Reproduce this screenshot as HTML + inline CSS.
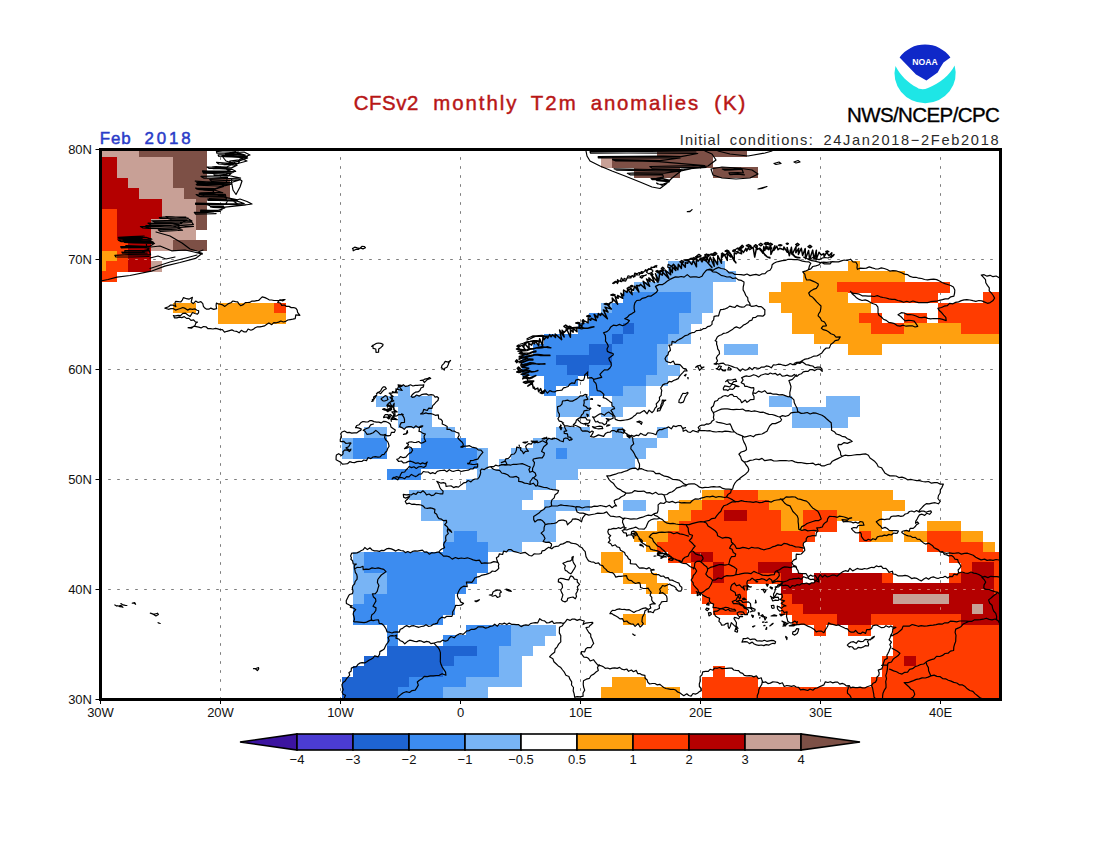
<!DOCTYPE html>
<html><head><meta charset="utf-8"><title>CFSv2 monthly T2m anomalies (K)</title>
<style>
html,body{margin:0;padding:0;background:#fff;}
body{width:1100px;height:850px;overflow:hidden;position:relative;font-family:"Liberation Sans",sans-serif;}
svg{position:absolute;left:0;top:0;display:block}
text{font-family:"Liberation Sans",sans-serif;}
.ax{font-size:13px;fill:#111;}
</style></head><body>
<svg width="1100" height="850" viewBox="0 0 1100 850">
<rect x="0" y="0" width="1100" height="850" fill="#fff"/>
<defs><clipPath id="mapclip"><rect x="100.5" y="149.5" width="900" height="550"/></clipPath></defs>

<g stroke="#7c7c7c" stroke-width="1" stroke-dasharray="2.6 6.4" stroke-dashoffset="1.3" fill="none">
<line x1="220.5" y1="149.5" x2="220.5" y2="699.5"/>
<line x1="340.5" y1="149.5" x2="340.5" y2="699.5"/>
<line x1="460.5" y1="149.5" x2="460.5" y2="699.5"/>
<line x1="580.5" y1="149.5" x2="580.5" y2="699.5"/>
<line x1="700.5" y1="149.5" x2="700.5" y2="699.5"/>
<line x1="820.5" y1="149.5" x2="820.5" y2="699.5"/>
<line x1="940.5" y1="149.5" x2="940.5" y2="699.5"/>
<line x1="100.5" y1="589.5" x2="1000.5" y2="589.5"/>
<line x1="100.5" y1="479.5" x2="1000.5" y2="479.5"/>
<line x1="100.5" y1="369.5" x2="1000.5" y2="369.5"/>
<line x1="100.5" y1="259.5" x2="1000.5" y2="259.5"/>
</g>
<g clip-path="url(#mapclip)" shape-rendering="crispEdges">
<rect x="94.38" y="146.70" width="45.30" height="10.69" fill="#c8a096"/>
<rect x="139.38" y="146.70" width="67.80" height="10.69" fill="#7d5046"/>
<rect x="656.88" y="146.70" width="90.30" height="10.69" fill="#7d5046"/>
<rect x="94.38" y="157.09" width="22.80" height="10.69" fill="#b40000"/>
<rect x="116.88" y="157.09" width="56.55" height="10.69" fill="#c8a096"/>
<rect x="173.12" y="157.09" width="34.05" height="10.69" fill="#7d5046"/>
<rect x="600.62" y="157.09" width="11.55" height="10.69" fill="#c8a096"/>
<rect x="611.88" y="157.09" width="101.55" height="10.69" fill="#7d5046"/>
<rect x="94.38" y="167.49" width="22.80" height="10.69" fill="#b40000"/>
<rect x="116.88" y="167.49" width="56.55" height="10.69" fill="#c8a096"/>
<rect x="173.12" y="167.49" width="34.05" height="10.69" fill="#7d5046"/>
<rect x="634.38" y="167.49" width="45.30" height="10.69" fill="#7d5046"/>
<rect x="713.12" y="167.49" width="45.30" height="10.69" fill="#7d5046"/>
<rect x="94.38" y="177.88" width="34.05" height="10.69" fill="#b40000"/>
<rect x="128.12" y="177.88" width="45.30" height="10.69" fill="#c8a096"/>
<rect x="173.12" y="177.88" width="56.55" height="10.69" fill="#7d5046"/>
<rect x="94.38" y="188.28" width="45.30" height="10.69" fill="#b40000"/>
<rect x="139.38" y="188.28" width="45.30" height="10.69" fill="#c8a096"/>
<rect x="184.38" y="188.28" width="45.30" height="10.69" fill="#7d5046"/>
<rect x="94.38" y="198.67" width="67.80" height="10.69" fill="#b40000"/>
<rect x="161.88" y="198.67" width="34.05" height="10.69" fill="#c8a096"/>
<rect x="195.62" y="198.67" width="11.55" height="10.69" fill="#7d5046"/>
<rect x="94.38" y="209.06" width="22.80" height="10.69" fill="#ff3c00"/>
<rect x="116.88" y="209.06" width="45.30" height="10.69" fill="#b40000"/>
<rect x="161.88" y="209.06" width="34.05" height="10.69" fill="#c8a096"/>
<rect x="195.62" y="209.06" width="11.55" height="10.69" fill="#7d5046"/>
<rect x="94.38" y="219.46" width="22.80" height="10.69" fill="#ff3c00"/>
<rect x="116.88" y="219.46" width="34.05" height="10.69" fill="#b40000"/>
<rect x="150.62" y="219.46" width="45.30" height="10.69" fill="#c8a096"/>
<rect x="195.62" y="219.46" width="11.55" height="10.69" fill="#7d5046"/>
<rect x="94.38" y="229.85" width="22.80" height="10.69" fill="#ff3c00"/>
<rect x="116.88" y="229.85" width="34.05" height="10.69" fill="#b40000"/>
<rect x="150.62" y="229.85" width="45.30" height="10.69" fill="#c8a096"/>
<rect x="94.38" y="240.25" width="34.05" height="10.69" fill="#ff3c00"/>
<rect x="128.12" y="240.25" width="22.80" height="10.69" fill="#b40000"/>
<rect x="150.62" y="240.25" width="22.80" height="10.69" fill="#c8a096"/>
<rect x="173.12" y="240.25" width="34.05" height="10.69" fill="#7d5046"/>
<rect x="94.38" y="250.64" width="22.80" height="10.69" fill="#ffa00f"/>
<rect x="116.88" y="250.64" width="11.55" height="10.69" fill="#ff3c00"/>
<rect x="128.12" y="250.64" width="22.80" height="10.69" fill="#b40000"/>
<rect x="94.38" y="261.03" width="11.55" height="10.69" fill="#ffa00f"/>
<rect x="105.62" y="261.03" width="22.80" height="10.69" fill="#ff3c00"/>
<rect x="128.12" y="261.03" width="22.80" height="10.69" fill="#b40000"/>
<rect x="150.62" y="261.03" width="11.55" height="10.69" fill="#c8a096"/>
<rect x="668.12" y="261.03" width="56.55" height="10.69" fill="#78b4f5"/>
<rect x="848.12" y="261.03" width="11.55" height="10.69" fill="#ffa00f"/>
<rect x="94.38" y="271.43" width="22.80" height="10.69" fill="#ff3c00"/>
<rect x="656.88" y="271.43" width="79.05" height="10.69" fill="#78b4f5"/>
<rect x="803.12" y="271.43" width="101.55" height="10.69" fill="#ffa00f"/>
<rect x="634.38" y="281.82" width="79.05" height="10.69" fill="#78b4f5"/>
<rect x="780.62" y="281.82" width="56.55" height="10.69" fill="#ffa00f"/>
<rect x="836.88" y="281.82" width="112.80" height="10.69" fill="#ff3c00"/>
<rect x="623.12" y="292.22" width="67.80" height="10.69" fill="#3c8cf0"/>
<rect x="690.62" y="292.22" width="22.80" height="10.69" fill="#78b4f5"/>
<rect x="769.38" y="292.22" width="79.05" height="10.69" fill="#ffa00f"/>
<rect x="870.62" y="292.22" width="67.80" height="10.69" fill="#ff3c00"/>
<rect x="983.12" y="292.22" width="22.80" height="10.69" fill="#ff3c00"/>
<rect x="173.12" y="302.61" width="22.80" height="10.69" fill="#ffa00f"/>
<rect x="218.12" y="302.61" width="56.55" height="10.69" fill="#ffa00f"/>
<rect x="274.38" y="302.61" width="11.55" height="10.69" fill="#ff3c00"/>
<rect x="600.62" y="302.61" width="11.55" height="10.69" fill="#78b4f5"/>
<rect x="611.88" y="302.61" width="79.05" height="10.69" fill="#3c8cf0"/>
<rect x="690.62" y="302.61" width="22.80" height="10.69" fill="#78b4f5"/>
<rect x="780.62" y="302.61" width="90.30" height="10.69" fill="#ffa00f"/>
<rect x="938.12" y="302.61" width="67.80" height="10.69" fill="#ff3c00"/>
<rect x="218.12" y="313.00" width="67.80" height="10.69" fill="#ffa00f"/>
<rect x="589.38" y="313.00" width="90.30" height="10.69" fill="#3c8cf0"/>
<rect x="679.38" y="313.00" width="22.80" height="10.69" fill="#78b4f5"/>
<rect x="791.88" y="313.00" width="67.80" height="10.69" fill="#ffa00f"/>
<rect x="859.38" y="313.00" width="22.80" height="10.69" fill="#ff3c00"/>
<rect x="904.38" y="313.00" width="22.80" height="10.69" fill="#ff3c00"/>
<rect x="938.12" y="313.00" width="67.80" height="10.69" fill="#ff3c00"/>
<rect x="578.12" y="323.40" width="45.30" height="10.69" fill="#3c8cf0"/>
<rect x="623.12" y="323.40" width="11.55" height="10.69" fill="#1e64d2"/>
<rect x="634.38" y="323.40" width="45.30" height="10.69" fill="#3c8cf0"/>
<rect x="679.38" y="323.40" width="11.55" height="10.69" fill="#78b4f5"/>
<rect x="791.88" y="323.40" width="79.05" height="10.69" fill="#ffa00f"/>
<rect x="870.62" y="323.40" width="34.05" height="10.69" fill="#ff3c00"/>
<rect x="904.38" y="323.40" width="56.55" height="10.69" fill="#ffa00f"/>
<rect x="960.62" y="323.40" width="45.30" height="10.69" fill="#ff3c00"/>
<rect x="544.38" y="333.79" width="67.80" height="10.69" fill="#3c8cf0"/>
<rect x="611.88" y="333.79" width="11.55" height="10.69" fill="#1e64d2"/>
<rect x="623.12" y="333.79" width="45.30" height="10.69" fill="#3c8cf0"/>
<rect x="668.12" y="333.79" width="22.80" height="10.69" fill="#78b4f5"/>
<rect x="814.38" y="333.79" width="191.55" height="10.69" fill="#ffa00f"/>
<rect x="533.12" y="344.19" width="56.55" height="10.69" fill="#3c8cf0"/>
<rect x="589.38" y="344.19" width="22.80" height="10.69" fill="#1e64d2"/>
<rect x="611.88" y="344.19" width="45.30" height="10.69" fill="#3c8cf0"/>
<rect x="656.88" y="344.19" width="11.55" height="10.69" fill="#78b4f5"/>
<rect x="724.38" y="344.19" width="34.05" height="10.69" fill="#78b4f5"/>
<rect x="848.12" y="344.19" width="34.05" height="10.69" fill="#ffa00f"/>
<rect x="521.88" y="354.58" width="34.05" height="10.69" fill="#3c8cf0"/>
<rect x="555.62" y="354.58" width="56.55" height="10.69" fill="#1e64d2"/>
<rect x="611.88" y="354.58" width="45.30" height="10.69" fill="#3c8cf0"/>
<rect x="656.88" y="354.58" width="11.55" height="10.69" fill="#78b4f5"/>
<rect x="521.88" y="364.97" width="45.30" height="10.69" fill="#3c8cf0"/>
<rect x="566.88" y="364.97" width="22.80" height="10.69" fill="#1e64d2"/>
<rect x="589.38" y="364.97" width="67.80" height="10.69" fill="#3c8cf0"/>
<rect x="656.88" y="364.97" width="22.80" height="10.69" fill="#78b4f5"/>
<rect x="544.38" y="375.37" width="34.05" height="10.69" fill="#3c8cf0"/>
<rect x="589.38" y="375.37" width="56.55" height="10.69" fill="#3c8cf0"/>
<rect x="645.62" y="375.37" width="22.80" height="10.69" fill="#78b4f5"/>
<rect x="398.12" y="385.76" width="11.55" height="10.69" fill="#78b4f5"/>
<rect x="544.38" y="385.76" width="11.55" height="10.69" fill="#3c8cf0"/>
<rect x="589.38" y="385.76" width="34.05" height="10.69" fill="#3c8cf0"/>
<rect x="623.12" y="385.76" width="22.80" height="10.69" fill="#78b4f5"/>
<rect x="375.62" y="396.16" width="56.55" height="10.69" fill="#78b4f5"/>
<rect x="555.62" y="396.16" width="34.05" height="10.69" fill="#78b4f5"/>
<rect x="611.88" y="396.16" width="34.05" height="10.69" fill="#78b4f5"/>
<rect x="769.38" y="396.16" width="22.80" height="10.69" fill="#78b4f5"/>
<rect x="825.62" y="396.16" width="34.05" height="10.69" fill="#78b4f5"/>
<rect x="398.12" y="406.55" width="34.05" height="10.69" fill="#78b4f5"/>
<rect x="555.62" y="406.55" width="34.05" height="10.69" fill="#78b4f5"/>
<rect x="600.62" y="406.55" width="22.80" height="10.69" fill="#78b4f5"/>
<rect x="791.88" y="406.55" width="67.80" height="10.69" fill="#78b4f5"/>
<rect x="398.12" y="416.94" width="34.05" height="10.69" fill="#78b4f5"/>
<rect x="791.88" y="416.94" width="56.55" height="10.69" fill="#78b4f5"/>
<rect x="364.38" y="427.34" width="22.80" height="10.69" fill="#78b4f5"/>
<rect x="420.62" y="427.34" width="34.05" height="10.69" fill="#78b4f5"/>
<rect x="555.62" y="427.34" width="34.05" height="10.69" fill="#78b4f5"/>
<rect x="611.88" y="427.34" width="11.55" height="10.69" fill="#78b4f5"/>
<rect x="656.88" y="427.34" width="11.55" height="10.69" fill="#78b4f5"/>
<rect x="341.88" y="437.73" width="11.55" height="10.69" fill="#78b4f5"/>
<rect x="353.12" y="437.73" width="34.05" height="10.69" fill="#3c8cf0"/>
<rect x="420.62" y="437.73" width="45.30" height="10.69" fill="#3c8cf0"/>
<rect x="533.12" y="437.73" width="124.05" height="10.69" fill="#78b4f5"/>
<rect x="341.88" y="448.13" width="11.55" height="10.69" fill="#78b4f5"/>
<rect x="353.12" y="448.13" width="34.05" height="10.69" fill="#3c8cf0"/>
<rect x="409.38" y="448.13" width="67.80" height="10.69" fill="#3c8cf0"/>
<rect x="476.88" y="448.13" width="11.55" height="10.69" fill="#78b4f5"/>
<rect x="510.62" y="448.13" width="45.30" height="10.69" fill="#78b4f5"/>
<rect x="555.62" y="448.13" width="11.55" height="10.69" fill="#3c8cf0"/>
<rect x="566.88" y="448.13" width="79.05" height="10.69" fill="#78b4f5"/>
<rect x="409.38" y="458.52" width="67.80" height="10.69" fill="#3c8cf0"/>
<rect x="476.88" y="458.52" width="11.55" height="10.69" fill="#78b4f5"/>
<rect x="499.38" y="458.52" width="135.30" height="10.69" fill="#78b4f5"/>
<rect x="386.88" y="468.91" width="34.05" height="10.69" fill="#3c8cf0"/>
<rect x="476.88" y="468.91" width="101.55" height="10.69" fill="#78b4f5"/>
<rect x="465.62" y="479.31" width="90.30" height="10.69" fill="#78b4f5"/>
<rect x="409.38" y="489.70" width="124.05" height="10.69" fill="#78b4f5"/>
<rect x="701.88" y="489.70" width="22.80" height="10.69" fill="#ffa00f"/>
<rect x="724.38" y="489.70" width="34.05" height="10.69" fill="#ff3c00"/>
<rect x="758.12" y="489.70" width="135.30" height="10.69" fill="#ffa00f"/>
<rect x="420.62" y="500.10" width="101.55" height="10.69" fill="#78b4f5"/>
<rect x="544.38" y="500.10" width="45.30" height="10.69" fill="#78b4f5"/>
<rect x="623.12" y="500.10" width="22.80" height="10.69" fill="#78b4f5"/>
<rect x="679.38" y="500.10" width="22.80" height="10.69" fill="#ffa00f"/>
<rect x="701.88" y="500.10" width="67.80" height="10.69" fill="#ff3c00"/>
<rect x="769.38" y="500.10" width="135.30" height="10.69" fill="#ffa00f"/>
<rect x="420.62" y="510.49" width="135.30" height="10.69" fill="#78b4f5"/>
<rect x="668.12" y="510.49" width="22.80" height="10.69" fill="#ffa00f"/>
<rect x="690.62" y="510.49" width="34.05" height="10.69" fill="#ff3c00"/>
<rect x="724.38" y="510.49" width="22.80" height="10.69" fill="#b40000"/>
<rect x="746.88" y="510.49" width="34.05" height="10.69" fill="#ff3c00"/>
<rect x="780.62" y="510.49" width="22.80" height="10.69" fill="#ffa00f"/>
<rect x="803.12" y="510.49" width="34.05" height="10.69" fill="#ff3c00"/>
<rect x="836.88" y="510.49" width="45.30" height="10.69" fill="#ffa00f"/>
<rect x="443.12" y="520.88" width="112.80" height="10.69" fill="#78b4f5"/>
<rect x="656.88" y="520.88" width="22.80" height="10.69" fill="#ffa00f"/>
<rect x="679.38" y="520.88" width="101.55" height="10.69" fill="#ff3c00"/>
<rect x="780.62" y="520.88" width="22.80" height="10.69" fill="#ffa00f"/>
<rect x="803.12" y="520.88" width="34.05" height="10.69" fill="#ff3c00"/>
<rect x="859.38" y="520.88" width="22.80" height="10.69" fill="#ffa00f"/>
<rect x="926.88" y="520.88" width="34.05" height="10.69" fill="#ffa00f"/>
<rect x="443.12" y="531.28" width="11.55" height="10.69" fill="#78b4f5"/>
<rect x="454.38" y="531.28" width="22.80" height="10.69" fill="#3c8cf0"/>
<rect x="476.88" y="531.28" width="79.05" height="10.69" fill="#78b4f5"/>
<rect x="634.38" y="531.28" width="34.05" height="10.69" fill="#ffa00f"/>
<rect x="668.12" y="531.28" width="146.55" height="10.69" fill="#ff3c00"/>
<rect x="859.38" y="531.28" width="11.55" height="10.69" fill="#ff3c00"/>
<rect x="870.62" y="531.28" width="22.80" height="10.69" fill="#ffa00f"/>
<rect x="904.38" y="531.28" width="22.80" height="10.69" fill="#ffa00f"/>
<rect x="926.88" y="531.28" width="34.05" height="10.69" fill="#ff3c00"/>
<rect x="960.62" y="531.28" width="22.80" height="10.69" fill="#ffa00f"/>
<rect x="443.12" y="541.67" width="45.30" height="10.69" fill="#3c8cf0"/>
<rect x="488.12" y="541.67" width="34.05" height="10.69" fill="#78b4f5"/>
<rect x="645.62" y="541.67" width="11.55" height="10.69" fill="#ffa00f"/>
<rect x="656.88" y="541.67" width="146.55" height="10.69" fill="#ff3c00"/>
<rect x="926.88" y="541.67" width="56.55" height="10.69" fill="#ff3c00"/>
<rect x="983.12" y="541.67" width="11.55" height="10.69" fill="#ffa00f"/>
<rect x="353.12" y="552.07" width="11.55" height="10.69" fill="#78b4f5"/>
<rect x="364.38" y="552.07" width="124.05" height="10.69" fill="#3c8cf0"/>
<rect x="600.62" y="552.07" width="22.80" height="10.69" fill="#ffa00f"/>
<rect x="668.12" y="552.07" width="22.80" height="10.69" fill="#ff3c00"/>
<rect x="690.62" y="552.07" width="22.80" height="10.69" fill="#b40000"/>
<rect x="713.12" y="552.07" width="79.05" height="10.69" fill="#ff3c00"/>
<rect x="949.38" y="552.07" width="56.55" height="10.69" fill="#ff3c00"/>
<rect x="353.12" y="562.46" width="11.55" height="10.69" fill="#78b4f5"/>
<rect x="364.38" y="562.46" width="124.05" height="10.69" fill="#3c8cf0"/>
<rect x="600.62" y="562.46" width="22.80" height="10.69" fill="#ffa00f"/>
<rect x="690.62" y="562.46" width="22.80" height="10.69" fill="#ff3c00"/>
<rect x="713.12" y="562.46" width="11.55" height="10.69" fill="#b40000"/>
<rect x="724.38" y="562.46" width="34.05" height="10.69" fill="#ff3c00"/>
<rect x="758.12" y="562.46" width="34.05" height="10.69" fill="#b40000"/>
<rect x="960.62" y="562.46" width="11.55" height="10.69" fill="#ff3c00"/>
<rect x="971.88" y="562.46" width="22.80" height="10.69" fill="#b40000"/>
<rect x="994.38" y="562.46" width="11.55" height="10.69" fill="#ff3c00"/>
<rect x="353.12" y="572.85" width="34.05" height="10.69" fill="#78b4f5"/>
<rect x="386.88" y="572.85" width="90.30" height="10.69" fill="#3c8cf0"/>
<rect x="623.12" y="572.85" width="34.05" height="10.69" fill="#ffa00f"/>
<rect x="690.62" y="572.85" width="22.80" height="10.69" fill="#ff3c00"/>
<rect x="713.12" y="572.85" width="11.55" height="10.69" fill="#b40000"/>
<rect x="724.38" y="572.85" width="56.55" height="10.69" fill="#ff3c00"/>
<rect x="780.62" y="572.85" width="22.80" height="10.69" fill="#b40000"/>
<rect x="814.38" y="572.85" width="67.80" height="10.69" fill="#b40000"/>
<rect x="881.88" y="572.85" width="11.55" height="10.69" fill="#ff3c00"/>
<rect x="949.38" y="572.85" width="11.55" height="10.69" fill="#ff3c00"/>
<rect x="960.62" y="572.85" width="34.05" height="10.69" fill="#b40000"/>
<rect x="994.38" y="572.85" width="11.55" height="10.69" fill="#ff3c00"/>
<rect x="353.12" y="583.25" width="34.05" height="10.69" fill="#78b4f5"/>
<rect x="386.88" y="583.25" width="79.05" height="10.69" fill="#3c8cf0"/>
<rect x="645.62" y="583.25" width="22.80" height="10.69" fill="#ffa00f"/>
<rect x="690.62" y="583.25" width="56.55" height="10.69" fill="#ff3c00"/>
<rect x="780.62" y="583.25" width="214.05" height="10.69" fill="#b40000"/>
<rect x="994.38" y="583.25" width="11.55" height="10.69" fill="#ff3c00"/>
<rect x="353.12" y="593.64" width="11.55" height="10.69" fill="#78b4f5"/>
<rect x="364.38" y="593.64" width="90.30" height="10.69" fill="#3c8cf0"/>
<rect x="701.88" y="593.64" width="45.30" height="10.69" fill="#ff3c00"/>
<rect x="780.62" y="593.64" width="11.55" height="10.69" fill="#ff3c00"/>
<rect x="791.88" y="593.64" width="101.55" height="10.69" fill="#b40000"/>
<rect x="893.12" y="593.64" width="56.55" height="10.69" fill="#c8a096"/>
<rect x="949.38" y="593.64" width="56.55" height="10.69" fill="#b40000"/>
<rect x="353.12" y="604.04" width="101.55" height="10.69" fill="#3c8cf0"/>
<rect x="713.12" y="604.04" width="34.05" height="10.69" fill="#ff3c00"/>
<rect x="780.62" y="604.04" width="22.80" height="10.69" fill="#ff3c00"/>
<rect x="803.12" y="604.04" width="169.05" height="10.69" fill="#b40000"/>
<rect x="971.88" y="604.04" width="11.55" height="10.69" fill="#c8a096"/>
<rect x="983.12" y="604.04" width="22.80" height="10.69" fill="#b40000"/>
<rect x="353.12" y="614.43" width="90.30" height="10.69" fill="#3c8cf0"/>
<rect x="623.12" y="614.43" width="22.80" height="10.69" fill="#ffa00f"/>
<rect x="791.88" y="614.43" width="45.30" height="10.69" fill="#ff3c00"/>
<rect x="836.88" y="614.43" width="34.05" height="10.69" fill="#b40000"/>
<rect x="870.62" y="614.43" width="90.30" height="10.69" fill="#ff3c00"/>
<rect x="960.62" y="614.43" width="45.30" height="10.69" fill="#b40000"/>
<rect x="386.88" y="624.82" width="11.55" height="10.69" fill="#3c8cf0"/>
<rect x="465.62" y="624.82" width="45.30" height="10.69" fill="#3c8cf0"/>
<rect x="510.62" y="624.82" width="45.30" height="10.69" fill="#78b4f5"/>
<rect x="814.38" y="624.82" width="11.55" height="10.69" fill="#ff3c00"/>
<rect x="848.12" y="624.82" width="22.80" height="10.69" fill="#ff3c00"/>
<rect x="893.12" y="624.82" width="112.80" height="10.69" fill="#ff3c00"/>
<rect x="386.88" y="635.22" width="11.55" height="10.69" fill="#3c8cf0"/>
<rect x="443.12" y="635.22" width="67.80" height="10.69" fill="#3c8cf0"/>
<rect x="510.62" y="635.22" width="34.05" height="10.69" fill="#78b4f5"/>
<rect x="893.12" y="635.22" width="112.80" height="10.69" fill="#ff3c00"/>
<rect x="386.88" y="645.61" width="90.30" height="10.69" fill="#1e64d2"/>
<rect x="476.88" y="645.61" width="22.80" height="10.69" fill="#3c8cf0"/>
<rect x="499.38" y="645.61" width="34.05" height="10.69" fill="#78b4f5"/>
<rect x="893.12" y="645.61" width="112.80" height="10.69" fill="#ff3c00"/>
<rect x="364.38" y="656.01" width="90.30" height="10.69" fill="#1e64d2"/>
<rect x="454.38" y="656.01" width="45.30" height="10.69" fill="#3c8cf0"/>
<rect x="499.38" y="656.01" width="22.80" height="10.69" fill="#78b4f5"/>
<rect x="881.88" y="656.01" width="22.80" height="10.69" fill="#ff3c00"/>
<rect x="904.38" y="656.01" width="11.55" height="10.69" fill="#b40000"/>
<rect x="915.62" y="656.01" width="90.30" height="10.69" fill="#ff3c00"/>
<rect x="353.12" y="666.40" width="90.30" height="10.69" fill="#1e64d2"/>
<rect x="443.12" y="666.40" width="56.55" height="10.69" fill="#3c8cf0"/>
<rect x="499.38" y="666.40" width="22.80" height="10.69" fill="#78b4f5"/>
<rect x="713.12" y="666.40" width="11.55" height="10.69" fill="#ff3c00"/>
<rect x="881.88" y="666.40" width="124.05" height="10.69" fill="#ff3c00"/>
<rect x="341.88" y="676.79" width="67.80" height="10.69" fill="#1e64d2"/>
<rect x="409.38" y="676.79" width="56.55" height="10.69" fill="#3c8cf0"/>
<rect x="465.62" y="676.79" width="56.55" height="10.69" fill="#78b4f5"/>
<rect x="611.88" y="676.79" width="34.05" height="10.69" fill="#ffa00f"/>
<rect x="701.88" y="676.79" width="56.55" height="10.69" fill="#ff3c00"/>
<rect x="870.62" y="676.79" width="135.30" height="10.69" fill="#ff3c00"/>
<rect x="341.88" y="687.19" width="56.55" height="10.69" fill="#1e64d2"/>
<rect x="398.12" y="687.19" width="45.30" height="10.69" fill="#3c8cf0"/>
<rect x="443.12" y="687.19" width="45.30" height="10.69" fill="#78b4f5"/>
<rect x="600.62" y="687.19" width="79.05" height="10.69" fill="#ffa00f"/>
<rect x="701.88" y="687.19" width="304.05" height="10.69" fill="#ff3c00"/>
</g>
<clipPath id="rc">
<rect x="94.38" y="157.09" width="22.50" height="10.39"/>
<rect x="94.38" y="167.49" width="22.50" height="10.39"/>
<rect x="94.38" y="177.88" width="33.75" height="10.39"/>
<rect x="94.38" y="188.28" width="45.00" height="10.39"/>
<rect x="94.38" y="198.67" width="67.50" height="10.39"/>
<rect x="116.88" y="209.06" width="45.00" height="10.39"/>
<rect x="116.88" y="219.46" width="33.75" height="10.39"/>
<rect x="116.88" y="229.85" width="33.75" height="10.39"/>
<rect x="128.12" y="240.25" width="22.50" height="10.39"/>
<rect x="128.12" y="250.64" width="22.50" height="10.39"/>
<rect x="128.12" y="261.03" width="22.50" height="10.39"/>
<rect x="724.38" y="510.49" width="22.50" height="10.39"/>
<rect x="690.62" y="552.07" width="22.50" height="10.39"/>
<rect x="713.12" y="562.46" width="11.25" height="10.39"/>
<rect x="758.12" y="562.46" width="33.75" height="10.39"/>
<rect x="971.88" y="562.46" width="22.50" height="10.39"/>
<rect x="713.12" y="572.85" width="11.25" height="10.39"/>
<rect x="780.62" y="572.85" width="22.50" height="10.39"/>
<rect x="814.38" y="572.85" width="67.50" height="10.39"/>
<rect x="960.62" y="572.85" width="33.75" height="10.39"/>
<rect x="780.62" y="583.25" width="213.75" height="10.39"/>
<rect x="791.88" y="593.64" width="101.25" height="10.39"/>
<rect x="949.38" y="593.64" width="56.25" height="10.39"/>
<rect x="803.12" y="604.04" width="168.75" height="10.39"/>
<rect x="983.12" y="604.04" width="22.50" height="10.39"/>
<rect x="836.88" y="614.43" width="33.75" height="10.39"/>
<rect x="960.62" y="614.43" width="45.00" height="10.39"/>
<rect x="904.38" y="656.01" width="11.25" height="10.39"/>
</clipPath>
<g clip-path="url(#rc)" stroke="#d87c6a" stroke-width="1" stroke-dasharray="2.6 6.4" stroke-dashoffset="1.3" fill="none">
<line x1="220.5" y1="149.5" x2="220.5" y2="699.5"/>
<line x1="340.5" y1="149.5" x2="340.5" y2="699.5"/>
<line x1="460.5" y1="149.5" x2="460.5" y2="699.5"/>
<line x1="580.5" y1="149.5" x2="580.5" y2="699.5"/>
<line x1="700.5" y1="149.5" x2="700.5" y2="699.5"/>
<line x1="820.5" y1="149.5" x2="820.5" y2="699.5"/>
<line x1="940.5" y1="149.5" x2="940.5" y2="699.5"/>
<line x1="100.5" y1="589.5" x2="1000.5" y2="589.5"/>
<line x1="100.5" y1="479.5" x2="1000.5" y2="479.5"/>
<line x1="100.5" y1="369.5" x2="1000.5" y2="369.5"/>
<line x1="100.5" y1="259.5" x2="1000.5" y2="259.5"/>
</g>
<g clip-path="url(#mapclip)" stroke="#000" stroke-width="1.2" fill="none" stroke-linejoin="round" stroke-linecap="round">
<path d="M188.1 327.7L190.6 327.5L192.9 326.9L195.0 325.6L195.7 323.4L197.5 322.0L195.4 321.8L193.6 319.8L191.0 320.4L189.0 318.3L186.5 318.4L184.3 316.6L181.8 317.6L179.4 317.2L176.9 317.9L174.4 317.9L173.7 315.5L173.4 315.6L175.8 315.8L178.2 315.4L180.6 315.7L182.8 313.3L185.2 313.1L187.8 315.0L190.2 316.4L192.5 312.5L194.9 313.5L197.4 314.2L198.5 312.9L198.7 310.8L197.0 310.2L194.8 308.8L192.4 309.3L190.0 308.9L187.6 310.1L185.2 308.4L182.8 307.5L180.4 308.5L178.0 309.3L175.6 310.1L173.2 308.6L170.8 308.6L168.4 309.3L164.9 308.1L168.5 306.7L170.6 305.0L173.3 305.2L175.5 306.6L175.9 306.4L175.2 304.7L175.0 302.8L175.6 301.4L178.2 301.7L180.7 302.0L182.3 300.1L183.5 297.6L186.5 298.7L188.9 299.2L192.4 297.3L191.5 300.5L191.2 302.0L193.2 303.6L195.7 301.1L198.1 302.5L200.9 301.6L202.8 303.6L203.4 306.3L204.8 308.1L206.6 309.2L208.9 309.2L210.8 308.1L213.7 309.4L216.6 308.7L216.1 305.5L216.4 303.0L218.2 304.0L220.4 304.2L222.7 304.9L224.9 306.4L226.8 304.9L228.5 303.6L230.9 302.7L232.9 301.0L235.5 301.6L237.6 301.8L238.9 303.8L240.6 305.6L242.0 305.1L243.6 304.4L245.3 302.7L247.4 302.5L249.7 302.4L252.0 301.1L254.4 301.1L256.7 300.6L258.6 300.5L260.2 298.8L262.2 296.8L265.0 297.6L267.3 298.8L269.1 299.8L271.7 300.0L273.9 300.5L276.3 300.5L278.7 300.6L281.1 300.1L283.4 299.6L285.1 299.5L282.9 300.8L279.8 299.9L277.7 302.4L280.3 303.0L281.8 305.3L284.5 305.0L286.5 306.4L289.0 306.4L291.2 307.6L293.7 307.5L296.0 308.4L297.2 310.1L297.6 312.3L299.9 315.3L295.8 314.8L295.2 318.6L292.8 319.2L290.3 319.6L287.8 320.0L285.8 321.3L283.4 322.0L280.9 321.0L278.6 322.1L276.3 322.8L273.8 322.7L271.8 324.7L268.9 322.9L266.8 324.2L264.7 325.9L262.3 326.4L260.0 326.8L257.5 326.8L255.2 327.7L253.2 329.4L250.9 330.2L248.1 329.0L246.4 331.8L243.8 331.8L241.3 330.3L239.1 332.8L236.5 331.3L234.1 331.0L231.9 329.9L229.5 330.6L227.0 331.3L224.5 332.1L222.4 329.7L220.0 329.6L217.8 328.9L215.6 328.3L212.9 329.0L210.5 328.7L208.0 328.7L206.0 326.8L203.5 326.5L201.1 327.9L198.7 327.2L196.3 326.6L193.9 326.1L191.5 328.2L189.1 327.9L188.1 327.7M392.1 479.0L394.1 477.5L396.3 476.7L399.5 477.6L400.6 474.5L401.9 472.4L404.7 472.0L406.0 470.0L407.6 468.5L409.1 466.5L411.6 467.6L413.9 466.8L416.3 468.5L418.7 466.8L421.1 466.5L423.8 467.5L425.9 465.9L426.6 463.2L427.3 462.0L425.1 463.9L422.5 462.9L420.2 464.1L418.0 462.8L415.5 463.3L413.2 462.1L410.8 461.2L408.5 461.4L406.0 462.6L403.5 463.0L401.4 461.0L398.7 461.5L396.8 459.3L398.7 458.7L400.5 456.6L403.3 457.7L405.8 457.2L407.5 455.2L409.2 453.4L411.1 452.6L412.6 450.2L411.4 447.7L409.1 446.8L406.8 448.2L404.5 448.6L405.8 447.5L407.7 446.0L408.5 444.4L406.6 443.1L407.2 443.7L409.1 442.0L411.6 441.8L413.9 442.5L416.2 442.4L418.6 441.5L421.0 443.2L422.9 442.6L425.7 441.3L424.3 438.4L424.1 436.1L425.4 434.0L422.9 433.4L421.0 431.9L418.8 431.2L419.3 430.2L419.3 427.8L421.7 427.0L422.8 425.9L420.7 426.2L418.4 427.5L415.8 425.8L413.6 428.0L411.1 426.5L408.7 426.7L406.3 427.1L404.2 429.3L401.9 427.6L399.7 426.6L400.2 424.6L401.3 422.6L404.5 422.3L404.5 419.3L404.0 417.6L402.8 415.6L401.5 413.9L403.2 414.6L400.8 414.7L398.4 414.7L396.5 416.0L393.5 416.4L391.7 418.0L390.9 419.8L391.8 419.5L393.5 417.6L395.1 415.2L394.8 412.8L394.2 410.5L394.1 408.3L392.5 406.4L390.1 406.1L387.7 406.1L386.8 405.4L388.4 403.3L390.2 402.2L391.1 401.1L392.4 398.9L391.9 396.5L390.5 394.1L392.4 392.7L395.2 392.7L396.0 389.8L397.8 388.4L398.6 386.0L401.5 386.5L403.3 384.7L405.6 386.4L408.1 385.9L410.5 384.8L412.9 386.0L415.3 385.4L417.7 385.4L420.1 385.0L422.5 385.1L423.8 384.7L423.4 386.9L421.0 388.0L419.9 390.4L417.9 391.9L415.4 392.2L413.5 393.5L412.0 395.0L411.2 396.4L412.2 397.3L414.6 396.8L416.6 395.0L419.3 396.1L421.5 394.7L423.9 394.2L426.3 393.9L428.7 395.2L431.1 394.7L433.5 395.0L435.1 397.2L437.1 396.7L438.6 398.0L437.9 400.5L436.0 402.1L434.5 404.0L432.7 405.6L431.9 408.4L428.6 408.2L427.3 410.5L423.7 409.4L422.8 412.5L420.5 414.0L423.5 413.8L425.9 412.9L428.3 413.7L430.8 413.6L433.1 414.3L435.3 415.3L438.3 414.9L438.7 418.7L441.0 419.4L442.4 421.2L442.2 424.0L445.1 425.2L447.2 426.4L447.0 429.4L449.6 429.3L451.7 430.8L454.1 431.1L456.2 432.3L458.8 433.1L459.1 435.5L457.8 437.8L459.2 439.5L460.7 441.0L462.2 442.3L463.3 444.3L463.0 445.9L460.6 447.0L462.3 447.3L464.6 446.1L467.0 446.1L469.5 445.7L471.8 447.1L474.2 447.6L476.4 448.2L478.1 449.9L481.0 450.1L482.9 452.4L480.9 454.7L479.4 456.6L477.8 459.1L475.4 459.6L473.5 460.3L470.4 460.7L470.0 462.3L468.1 464.0L467.6 463.2L469.8 463.9L472.2 464.3L474.6 464.5L477.7 463.9L477.6 467.1L474.6 467.0L472.9 469.0L470.4 468.9L468.3 470.2L465.9 470.5L463.6 470.9L461.2 471.5L458.8 470.2L456.4 470.5L454.0 471.3L451.6 471.1L449.3 469.7L446.8 471.7L444.4 470.1L441.9 470.5L439.5 470.7L437.2 471.4L435.2 473.7L432.7 472.6L430.3 473.6L428.2 472.0L425.7 472.0L423.3 471.5L421.5 473.8L419.0 474.2L417.2 475.7L415.8 476.6L413.7 475.7L411.4 474.4L409.0 476.8L406.6 476.6L404.7 478.7L401.8 477.5L399.2 477.7L397.7 479.8L395.6 478.5L393.3 477.4L392.1 479.0M371.7 420.6L374.0 421.6L376.4 422.1L378.8 422.1L381.1 422.9L383.7 421.3L386.2 421.7L388.5 422.7L390.4 424.3L391.0 427.1L393.0 428.5L395.3 430.1L394.4 432.4L391.4 432.4L390.4 435.4L387.9 435.9L385.1 435.2L384.6 437.5L385.6 439.8L387.7 441.6L388.6 443.9L389.1 446.3L387.7 448.5L386.9 450.8L385.3 452.5L384.2 454.3L382.2 454.6L380.2 456.8L377.8 457.1L375.3 456.7L372.9 457.0L370.9 458.6L368.1 457.5L366.5 460.6L363.8 460.0L361.8 461.5L359.2 461.3L356.9 461.6L354.6 462.6L352.1 462.3L349.7 461.7L347.5 463.7L345.0 464.0L342.4 464.2L340.6 462.1L338.4 461.0L336.1 459.8L336.1 456.8L336.4 455.1L338.7 453.7L341.5 455.6L342.9 454.2L343.2 452.9L342.8 452.0L344.4 450.2L346.8 449.8L349.4 451.6L350.9 449.1L350.5 450.6L348.6 449.4L346.0 447.9L348.6 446.7L349.8 444.6L350.9 443.3L350.7 442.8L348.2 443.1L345.7 443.3L343.6 441.3L341.2 441.7L340.3 441.4L340.3 439.2L341.4 437.3L341.2 435.0L340.7 433.9L342.0 432.0L344.5 431.0L346.9 432.6L349.3 432.4L351.7 433.1L354.1 432.8L356.6 432.9L358.6 431.4L360.8 430.2L361.3 429.1L359.2 428.1L356.9 427.7L355.6 427.6L356.7 425.5L359.2 424.7L360.7 422.8L362.9 421.5L365.5 421.9L367.9 422.0L370.1 420.6L371.7 420.6M396.3 631.9L394.0 632.1L392.0 633.0L389.7 632.2L387.0 631.8L386.1 629.0L384.9 627.1L383.5 625.2L381.8 623.7L379.2 623.3L378.5 619.8L375.8 620.0L373.3 620.6L370.9 620.1L368.6 621.1L366.5 622.1L364.1 622.7L361.7 622.4L359.3 622.1L356.9 621.8L354.7 621.8L353.6 621.5L354.5 619.3L354.0 616.8L353.2 614.2L353.6 612.0L355.7 609.7L353.8 608.2L352.7 607.8L350.3 607.1L352.3 605.8L350.5 605.7L348.9 604.8L346.4 603.4L346.2 600.8L347.3 598.5L348.3 596.4L349.5 594.5L352.5 593.7L353.0 591.1L352.3 587.8L352.9 585.7L354.6 583.8L355.2 581.4L357.0 579.4L357.2 576.9L356.7 574.4L355.3 572.3L354.9 569.9L354.3 567.7L354.3 565.6L356.4 564.0L353.2 563.8L352.6 560.8L350.9 559.2L351.4 557.8L350.6 556.0L351.7 553.2L354.5 553.2L357.0 552.9L359.1 551.9L360.9 550.7L363.1 549.8L364.8 547.5L367.4 549.6L370.1 547.8L372.1 550.0L374.4 550.9L376.9 550.8L379.4 551.4L381.7 550.4L384.1 550.6L386.4 548.9L388.8 548.4L391.3 548.9L393.6 549.9L395.8 551.1L398.5 549.6L400.8 550.5L403.2 550.8L405.4 552.6L407.8 551.5L410.3 552.8L412.6 551.4L415.0 550.9L417.4 551.2L419.9 550.6L422.4 550.1L424.5 552.1L426.9 551.9L429.4 554.2L431.7 552.7L434.1 553.0L436.5 552.3L438.9 551.9L440.4 550.0L441.8 549.0L444.6 547.7L443.6 544.9L444.3 542.6L446.0 540.5L445.6 538.0L446.0 535.6L448.3 533.6L447.3 531.0L447.6 528.9L449.6 530.7L451.5 532.0L451.7 532.3L450.5 530.2L448.3 528.8L447.2 526.7L444.7 524.7L446.7 522.3L446.4 520.3L443.5 520.7L441.5 519.2L439.0 518.7L437.5 516.6L436.7 514.2L434.5 512.7L434.9 509.4L432.5 508.4L430.2 507.9L427.4 508.4L425.0 508.0L423.3 506.1L421.1 505.0L418.7 504.7L416.3 504.6L414.0 504.2L411.6 504.3L409.4 503.2L406.5 503.8L405.2 501.3L405.6 500.9L407.4 499.3L409.7 496.4L405.6 498.1L403.7 497.3L403.3 494.3L406.3 494.9L408.7 494.6L411.2 495.0L413.4 493.4L416.0 494.4L418.0 492.0L420.6 492.8L422.9 490.8L425.1 492.7L426.5 494.9L429.1 494.0L431.3 495.6L433.7 495.1L435.9 493.0L438.4 493.5L440.7 493.9L442.8 493.8L443.1 491.1L440.9 489.1L439.7 487.2L439.0 484.8L436.8 481.3L441.0 483.2L443.4 482.7L445.6 483.3L446.1 486.3L448.9 486.0L451.3 485.9L453.6 487.6L456.0 486.6L458.4 487.1L460.2 485.6L462.1 484.2L463.8 482.8L466.1 482.3L468.1 480.5L470.9 481.9L472.9 479.9L475.1 479.0L477.7 479.0L479.2 477.1L480.1 475.1L480.7 472.7L480.3 470.7L481.7 469.0L484.4 469.6L486.5 468.1L488.7 467.1L491.0 466.5L493.6 466.7L495.6 465.1L498.3 466.0L500.5 465.1L502.8 464.6L505.1 465.1L507.7 464.9L506.9 464.3L505.4 461.1L501.3 462.6L504.7 461.4L505.8 458.8L508.4 458.4L510.1 456.7L511.3 454.5L514.2 454.0L515.7 452.1L516.5 449.8L516.7 447.0L519.3 447.9L520.9 447.6L520.5 450.1L522.5 451.6L523.5 453.7L525.4 451.4L528.4 451.1L526.4 448.8L525.7 446.4L526.7 445.1L528.5 443.6L531.2 444.2L532.9 441.9L535.3 441.7L537.8 442.7L540.1 441.9L542.6 440.8L544.8 442.0L547.3 443.6L546.2 440.8L547.0 440.1L548.9 438.2L551.3 439.3L553.7 438.3L556.2 438.5L558.4 439.6L560.0 440.8L563.2 441.8L563.8 438.7L565.5 438.0L567.6 438.4L569.4 440.4L572.3 439.1L571.5 439.9L570.7 437.3L567.9 436.9L567.5 433.8L564.3 433.4L564.1 431.3L566.8 430.8L565.6 429.3L564.7 427.2L564.1 425.0L562.7 423.6L561.8 421.6L559.3 421.1L557.9 418.8L559.3 416.5L559.4 414.1L558.0 411.7L557.7 409.3L557.5 406.8L560.2 405.9L561.9 404.1L562.5 401.0L565.2 400.6L567.6 400.1L570.1 401.2L572.5 401.1L574.6 400.0L576.8 398.9L578.7 397.4L580.4 395.8L582.9 395.8L585.0 394.4L587.1 394.8L586.2 396.1L587.9 399.3L584.0 400.1L584.2 402.9L583.5 405.6L585.9 406.5L587.7 408.5L590.4 408.0L590.9 408.6L589.0 410.0L586.6 410.4L584.1 410.9L583.3 413.3L581.6 415.0L580.6 417.3L578.4 418.6L576.4 420.1L575.7 422.5L573.4 424.7L576.4 425.8L578.5 426.8L580.6 427.9L581.1 429.9L582.6 431.2L585.1 430.8L587.5 431.1L589.8 432.4L592.0 431.0L593.4 431.7L592.4 433.9L590.5 436.6L593.8 437.1L596.1 436.1L598.4 434.9L601.0 435.6L603.6 436.4L605.4 433.6L607.4 432.4L610.0 432.2L611.7 430.6L614.1 430.6L616.6 432.0L618.2 429.3L620.7 429.6L622.8 429.0L623.7 431.6L625.5 433.1L627.5 434.2L629.0 436.5L631.5 435.2L633.9 436.4L636.1 435.2L638.6 435.7L640.6 433.3L643.3 434.8L645.8 435.4L647.9 432.9L650.3 433.0L652.9 433.5L656.0 434.8L657.3 431.3L659.3 429.7L661.8 429.6L664.0 428.6L666.3 428.0L668.6 426.9L671.3 428.8L673.3 425.9L675.9 426.6L678.5 425.5L681.0 425.7L682.8 428.6L685.5 427.5L684.8 428.0L682.3 428.0L682.9 428.6L683.2 431.3L685.9 430.0L688.2 432.0L690.5 432.4L692.9 430.5L695.4 431.4L698.2 432.1L699.5 429.9L698.2 427.4L700.0 425.7L701.8 425.1L704.2 425.2L706.3 423.9L708.8 424.1L710.9 422.9L712.2 420.9L714.1 419.8L713.4 417.3L713.9 414.8L713.4 412.5L711.7 410.3L711.3 407.8L713.5 405.7L714.0 403.7L714.8 401.3L717.5 400.5L718.7 398.5L720.9 397.7L722.9 396.3L725.2 395.5L728.0 396.4L730.0 394.6L732.3 394.3L733.9 396.3L736.7 396.5L738.2 398.5L740.3 399.7L741.7 402.7L745.3 400.1L747.0 402.3L748.9 401.0L750.4 399.6L754.0 399.3L754.0 396.6L752.7 393.9L753.2 391.6L753.9 389.3L753.7 387.7L751.4 387.8L749.0 387.2L746.8 386.3L744.8 386.3L744.1 384.1L741.2 382.7L743.1 379.8L741.6 377.7L744.0 376.6L746.3 375.9L748.9 376.5L751.3 375.8L753.6 374.7L756.0 375.5L758.6 377.1L760.8 375.3L763.2 374.5L765.5 373.8L768.0 374.4L770.3 373.0L772.7 374.0L775.2 373.3L777.5 375.2L780.0 373.9L782.2 376.1L784.7 375.8L787.1 375.1L789.5 376.1L791.9 376.2L794.3 374.4L797.0 376.4L799.1 374.5L801.4 373.8L803.2 371.9L805.6 371.3L808.1 371.4L810.1 369.5L812.5 369.6L814.8 370.6L817.3 369.1L819.7 369.0L822.2 371.4L822.1 369.2L820.2 367.2L817.5 367.1L814.8 367.9L812.8 366.0L810.4 365.6L808.1 364.9L805.9 364.6L804.2 363.3L802.2 361.7L799.8 363.5L797.3 363.0L795.1 364.7L792.7 364.6L790.2 363.5L787.9 364.9L785.5 365.7L783.1 365.2L780.6 364.3L778.2 364.2L775.8 365.0L773.4 364.8L771.3 367.8L768.7 366.3L766.2 365.9L764.0 367.2L761.5 367.0L759.4 368.5L756.9 368.2L754.3 367.5L752.3 369.7L749.5 367.5L747.4 369.6L745.1 370.3L742.4 368.8L740.3 371.1L738.7 369.7L737.3 368.0L734.6 367.5L732.5 366.6L730.2 365.7L727.9 365.0L725.5 364.9L723.4 363.2L720.9 363.4L718.4 364.1L716.0 363.0L717.5 360.8L716.3 358.1L717.4 355.9L719.5 353.8L719.2 351.1L717.7 348.9L717.4 346.5L716.6 344.2L716.7 341.4L715.1 340.8L716.2 339.3L717.3 336.9L719.3 335.5L721.6 334.8L723.6 333.3L726.1 333.0L728.3 332.1L730.3 330.8L732.4 329.6L734.2 327.9L736.4 326.9L739.7 328.2L741.7 326.8L743.5 325.0L745.7 324.1L747.8 322.8L749.4 320.8L751.8 320.2L753.0 317.6L755.7 317.3L757.7 315.8L760.2 315.8L762.8 316.2L764.8 314.5L764.8 312.6L764.9 310.0L763.2 308.3L761.2 306.6L758.6 306.7L756.4 305.4L753.8 306.2L751.4 306.3L749.0 305.0L746.6 304.9L744.3 306.9L741.9 307.2L739.5 306.6L736.9 305.4L734.8 307.5L732.3 306.9L729.7 306.1L727.5 307.9L725.3 308.8L723.0 309.4L720.5 309.7L719.6 312.0L719.2 313.6L718.5 316.0L716.6 315.9L714.1 316.3L713.7 319.8L712.1 321.6L712.0 324.4L710.0 326.1L707.5 326.7L705.7 328.4L703.2 328.7L701.2 330.1L698.7 330.4L696.3 330.6L694.4 332.4L691.9 332.7L689.7 333.6L687.7 335.0L685.3 335.6L683.3 337.0L681.3 338.4L679.2 339.4L677.1 340.6L675.3 342.4L672.1 341.4L671.7 344.9L668.8 345.1L669.9 347.6L670.5 350.3L668.5 352.2L668.0 354.8L666.3 356.3L665.0 358.7L666.2 361.2L668.3 362.1L670.6 362.8L673.3 361.1L675.0 364.4L677.5 364.3L680.0 364.7L681.7 366.5L683.3 368.3L685.9 368.9L687.1 371.0L684.4 370.8L682.8 372.6L681.1 374.4L679.5 376.3L678.2 378.6L675.9 379.6L673.6 380.5L671.7 381.8L669.1 381.3L667.2 383.5L664.8 383.9L662.7 384.9L662.1 386.2L660.7 388.0L661.8 390.4L661.3 392.9L661.2 395.4L659.4 397.4L659.6 399.9L658.0 402.0L656.2 403.8L656.7 406.5L655.0 408.2L653.9 410.6L652.1 412.7L649.1 410.1L647.1 413.8L644.2 410.5L642.0 411.8L639.8 413.2L637.2 413.0L635.6 414.9L633.6 416.3L632.0 417.9L629.9 418.9L627.7 419.7L625.3 420.0L622.9 420.3L620.5 420.6L618.1 420.3L616.0 419.7L615.0 418.8L614.9 416.5L613.4 414.6L612.4 412.4L610.9 410.6L612.2 409.4L614.6 408.6L614.0 407.1L612.0 405.9L611.8 402.7L609.7 401.4L607.9 399.9L606.0 398.5L603.2 397.6L603.9 394.5L602.1 392.6L600.2 391.2L597.3 390.6L596.7 388.0L596.5 385.5L595.8 383.2L593.9 381.4L593.4 379.0L591.4 377.6L587.8 378.1L587.5 375.0L587.4 372.6L587.8 371.9L586.6 373.3L584.7 375.0L584.5 377.6L583.6 380.1L581.1 380.7L578.3 379.4L575.8 380.1L574.7 383.3L571.7 382.9L569.6 384.2L568.2 386.5L565.9 387.3L563.5 387.9L561.9 390.1L559.4 390.5L557.0 390.6L554.7 391.9L552.2 391.6L549.8 390.6L547.4 393.1L545.0 390.2L544.5 391.5M396.3 631.9L399.2 632.2L400.3 629.2L402.6 628.4L404.5 626.8L406.7 625.6L409.3 627.0L411.6 625.9L414.0 625.7L416.4 626.7L418.9 627.3L421.3 626.5L423.6 626.2L426.0 624.7L428.4 626.3L430.8 626.0L433.0 624.4L435.0 623.9L437.5 623.2L438.2 620.6L439.7 618.7L441.8 617.2L444.6 618.0L446.7 616.3L449.2 616.3L451.9 616.4L452.8 614.1L452.6 612.0L453.6 610.2L454.7 608.2L455.7 605.3L458.6 605.5L461.1 605.2L463.5 603.4L460.8 602.1L459.7 600.0L458.2 598.1L457.4 595.9L457.6 593.8L458.6 591.5L459.7 589.3L461.3 587.5L463.6 586.2L467.2 586.6L466.4 582.1L469.4 582.2L471.9 582.4L473.6 580.2L474.7 578.0L476.8 577.2L479.1 576.7L481.2 575.4L483.5 574.8L485.9 574.4L488.2 573.6L490.4 572.8L492.3 571.0L495.1 571.5L497.1 570.0L498.8 568.3L498.4 565.9L498.9 564.3L497.8 562.5L497.0 560.3L496.4 557.8L498.5 556.5L499.4 553.8L502.6 554.5L503.6 551.2L506.6 551.9L508.5 549.6L511.2 549.7L513.3 551.3L515.6 551.9L517.9 552.5L520.3 553.3L522.7 552.8L525.3 552.4L527.4 554.0L529.4 555.5L531.9 555.9L534.3 553.8L536.6 554.0L539.0 554.0L541.2 553.5L542.1 550.9L544.7 550.3L546.5 548.7L548.7 547.3L551.8 548.8L553.8 547.0L556.1 546.4L558.5 546.1L560.4 544.4L562.9 543.9L565.0 542.9L567.0 541.6L569.1 541.8L571.2 543.2L573.6 543.5L576.1 543.9L578.1 545.1L579.8 546.8L582.1 547.8L583.5 549.9L585.2 551.7L585.6 554.1L586.0 556.6L587.2 558.8L588.6 560.9L591.0 561.8L593.8 562.1L595.6 563.5L598.5 562.9L600.2 565.0L602.6 565.7L604.1 567.9L606.0 569.4L607.5 571.3L609.8 572.3L612.4 572.6L614.2 574.2L615.8 577.1L618.6 576.3L621.0 576.3L623.3 576.0L626.5 575.6L627.3 578.5L629.0 580.1L631.5 580.6L633.3 582.2L635.5 583.5L637.9 582.7L639.8 582.8L640.4 585.1L640.5 587.5L642.9 588.3L645.3 588.5L648.1 588.2L649.5 590.3L651.2 592.3L650.1 595.3L651.8 597.3L651.7 600.0L652.9 602.0L655.2 603.8L652.1 603.9L649.9 604.8L650.8 607.9L648.3 609.5L648.2 612.1L650.6 611.7L653.2 612.7L654.5 610.2L657.0 609.5L659.5 608.3L659.1 605.5L660.6 603.8L661.5 601.9L663.9 601.5L666.9 601.5L667.1 598.9L666.6 596.1L664.7 594.2L662.7 592.7L659.4 593.4L660.5 591.2L659.6 589.1L661.3 587.5L662.5 585.5L664.8 586.1L666.8 585.2L669.5 584.0L671.7 585.4L674.0 586.2L675.7 587.6L676.7 589.8L678.7 591.2L680.8 591.2L681.9 589.2L681.8 587.2L679.9 585.8L679.0 583.1L676.6 582.2L674.4 581.2L672.2 580.1L669.6 580.1L668.1 577.6L665.4 577.9L663.5 576.0L660.8 576.3L658.8 574.7L656.3 574.6L653.8 574.5L651.8 573.0L650.8 570.4L654.3 569.9L653.6 569.4L651.5 569.9L649.1 567.6L646.7 568.9L644.4 568.2L642.0 567.9L639.4 568.1L637.5 566.2L635.9 564.2L633.2 564.0L630.3 563.6L630.5 560.1L628.4 558.7L627.4 556.5L625.4 554.9L624.6 552.5L622.4 551.3L620.5 550.3L619.5 547.5L617.1 546.8L615.3 544.8L612.2 546.0L610.8 543.7L608.3 542.5L610.1 540.3L608.9 537.7L610.7 535.7L608.6 534.1L607.8 531.8L608.6 529.3L611.2 529.1L613.5 528.4L616.1 528.7L618.2 527.7L620.6 528.4L623.0 527.0L625.1 527.5L624.7 529.6L622.1 530.5L623.7 532.7L626.4 533.2L626.7 536.2L628.2 535.0L631.1 534.8L631.6 531.9L633.6 531.1L635.5 532.3L637.2 534.0L637.7 535.6L639.0 537.3L640.1 539.3L640.9 541.7L642.8 543.2L644.9 544.5L646.8 545.9L649.4 546.4L650.5 549.1L652.9 549.8L655.3 550.4L657.6 550.9L659.8 551.8L661.7 553.4L664.3 553.6L666.4 554.8L668.2 556.5L670.9 556.5L672.6 558.5L675.0 559.0L677.2 560.1L679.2 561.3L681.2 562.7L683.5 563.5L686.2 563.6L688.1 565.0L690.0 566.5L692.3 567.6L695.1 568.2L696.7 571.0L695.1 573.6L693.3 575.5L692.7 577.9L691.1 580.0L693.2 582.8L693.2 584.5L694.5 586.2L696.2 588.0L697.9 589.7L698.6 592.1L701.0 593.0L702.6 595.0L704.6 596.1L706.9 597.2L709.6 598.1L709.3 601.2L710.9 603.0L713.6 604.1L713.0 607.7L715.9 607.5L718.1 608.2L720.6 608.8L722.9 608.2L725.3 607.4L727.7 607.5L729.9 608.5L732.2 609.1L734.7 609.4L735.7 610.8L734.9 610.8L732.7 611.0L730.2 611.0L728.2 609.3L725.7 610.5L723.4 609.2L721.0 608.6L718.9 609.9L717.1 611.2L713.9 611.3L714.3 613.8L715.4 615.9L717.3 617.3L719.6 618.5L718.9 621.3L720.8 623.2L721.6 625.2L724.3 624.9L726.0 623.6L728.1 623.2L728.1 626.2L729.1 628.5L730.2 626.5L731.3 622.6L734.1 625.4L736.0 626.8L738.0 628.4L737.4 627.5L736.1 625.7L736.5 622.8L735.3 620.7L734.0 618.6L734.6 617.3L736.4 617.8L738.7 618.8L740.2 616.3L742.6 616.6L739.3 616.6L737.6 614.8L737.1 612.9L738.8 611.9L741.2 611.8L743.4 612.2L744.7 614.6L747.5 614.6L747.2 613.3L748.6 612.4L748.5 610.3L746.6 609.0L744.3 608.1L742.8 606.0L740.6 605.1L738.5 603.8L735.9 603.7L733.5 603.6L732.3 601.6L734.0 600.8L736.1 600.1L736.9 598.3L737.6 597.0L738.2 596.1L739.6 599.1L740.7 597.2L739.9 594.4L735.8 595.5L735.2 592.5L733.2 591.2L730.6 589.8L730.9 586.7L732.2 584.4L734.6 583.0L735.3 584.5L736.6 585.8L739.5 584.9L741.4 586.9L743.4 588.3L744.5 589.9L743.8 587.4L742.5 587.6L744.0 586.0L747.1 585.8L746.9 590.1L747.6 589.0L747.7 586.6L747.1 584.8L749.4 586.8L751.5 586.8L750.2 587.2L747.9 586.2L746.9 583.7L747.0 582.3L747.7 580.5L750.1 580.0L752.1 578.1L754.9 580.3L757.3 579.6L759.7 579.3L762.1 578.7L764.4 579.4L766.7 580.8L769.4 578.4L771.7 580.0L772.4 582.9L774.9 581.9L777.2 581.2L779.6 581.3L783.4 581.8L780.6 584.3L777.9 584.8L776.9 587.4L775.1 587.0L776.8 586.5L779.4 586.2L781.5 585.0L782.7 582.3L785.0 581.5L787.3 580.7L789.4 579.4L791.7 579.2L794.1 578.6L796.5 578.6L798.8 578.1L801.1 579.3L803.7 576.7L806.0 577.8L808.0 577.9L809.1 576.4L807.7 576.2L806.0 573.5L803.5 573.7L801.1 573.5L798.5 573.2L798.0 570.6L796.6 568.6L796.0 566.2L793.3 565.2L791.8 562.5L793.5 560.1L796.3 558.9L796.1 556.3L796.3 554.2L798.9 554.4L801.3 554.0L803.1 552.1L804.8 550.3L804.4 547.8L803.2 545.2L803.6 542.7L806.1 541.2L806.3 538.4L808.0 536.5L810.5 536.1L812.9 535.5L816.0 535.8L816.3 532.8L818.0 530.8L816.8 527.9L819.8 527.6L822.3 527.0L823.4 524.5L825.0 522.8L827.1 521.4L827.7 518.7L829.4 516.4L832.3 516.5L834.8 516.7L837.3 517.3L839.6 516.1L842.0 516.5L844.3 517.0L846.6 517.9L848.9 518.8L851.7 517.9L849.5 518.1L847.5 520.1L845.0 519.9L842.0 519.6L843.4 521.9L846.3 521.3L848.5 521.7L850.8 521.8L853.2 522.9L855.6 522.1L858.0 523.3L860.4 521.5L862.9 522.1L864.0 525.2L860.8 525.3L858.2 525.5L856.7 527.8L853.8 527.5L851.5 528.5L852.0 529.4L853.4 530.9L855.5 532.7L858.0 532.8L860.4 532.4L861.3 534.0L861.4 536.4L862.8 538.4L864.2 540.2L866.2 540.7L868.3 539.3L870.9 540.3L872.9 538.7L875.7 539.6L877.4 536.9L879.6 536.2L882.1 536.1L884.3 535.1L886.7 535.6L888.9 534.4L891.3 535.0L893.7 533.0L895.8 533.4L897.2 533.1L898.5 531.0L896.5 530.7L894.1 530.5L891.7 530.6L889.2 530.4L887.2 528.5L885.0 527.4L882.1 528.5L880.7 526.2L878.7 524.7L876.3 521.8L879.3 519.7L881.8 519.2L884.5 519.6L887.0 519.2L889.5 519.1L891.1 516.6L893.4 516.0L895.9 516.2L898.3 515.7L900.8 516.3L903.3 515.9L905.2 514.0L907.6 513.5L909.4 511.5L911.8 511.0L914.2 512.0L916.6 510.5L919.0 512.1L921.4 511.1L923.8 511.1L926.2 512.2L928.4 511.3L930.9 510.9L931.5 512.2L929.6 514.3L926.7 513.3L924.7 515.4L922.0 514.2L919.5 514.9L918.1 517.0L917.1 519.1L915.8 521.1L915.5 523.3L917.4 521.9L918.7 523.5L916.4 524.8L915.0 526.8L913.2 528.4L910.1 528.3L909.2 531.4L906.5 530.4L904.1 530.8L902.0 531.5L901.8 532.5L903.8 533.9L905.9 535.1L908.2 535.9L910.7 536.2L912.7 537.5L915.4 537.4L917.2 539.1L919.8 539.4L921.5 541.3L923.5 542.9L925.6 544.1L928.6 543.1L930.7 544.5L932.7 545.8L934.2 547.8L936.4 548.9L938.5 549.9L940.1 551.9L942.9 551.7L944.3 554.5L946.7 554.9L948.9 555.9L951.6 555.5L953.6 557.0L955.0 559.2L957.7 559.7L958.3 562.2L959.8 564.0L961.0 566.2L959.6 568.4L958.1 570.0L958.6 572.6L957.1 574.9L954.1 574.2L952.4 576.6L949.8 576.4L947.8 578.1L945.1 576.3L942.9 577.5L940.5 577.5L938.1 578.5L935.7 577.8L933.3 576.9L930.9 577.5L928.6 579.3L926.1 577.7L923.8 579.0L921.3 580.9L918.9 579.8L916.6 578.3L914.3 577.8L911.6 578.6L909.6 577.1L907.4 575.8L905.0 575.4L902.5 575.8L900.1 575.9L897.9 575.8L895.8 574.4L893.1 574.0L892.3 571.2L889.0 572.4L887.6 570.1L885.7 568.3L883.2 568.5L881.2 566.2L878.8 566.7L876.3 565.9L874.0 567.7L871.6 567.3L869.2 568.1L866.9 569.0L864.5 568.5L862.1 569.4L859.7 569.2L857.2 568.4L854.9 569.8L852.7 570.9L849.8 568.3L848.1 571.4L845.2 570.7L843.0 571.6L841.0 572.9L839.0 574.5L837.0 576.2L834.3 575.0L831.9 575.2L829.6 576.2L827.3 577.0L824.7 575.1L822.4 577.2L820.2 574.7L817.5 579.0L815.3 575.5L812.9 576.3L810.5 575.1L809.7 575.8M808.5 578.5L810.7 579.6L813.3 579.2L815.3 580.8L818.5 579.0L818.8 581.9L815.8 580.8L813.9 582.9L811.4 582.8L809.3 584.6L806.7 583.0L804.3 583.6L801.9 583.6L799.7 585.1L797.2 584.6L795.0 586.1L792.4 585.5L790.2 587.9L787.8 585.5L785.4 585.1L783.0 585.6L780.3 584.2L778.8 586.8L775.9 586.9L775.2 589.8L774.7 592.0L773.5 594.1L774.0 597.8L776.9 593.4L779.3 594.4L781.8 594.2L782.1 594.9L782.4 597.2L780.3 599.6L784.6 600.8L781.2 603.3L783.3 604.8L785.9 605.9L783.8 606.1L781.5 608.4L779.3 606.8L777.1 606.1L777.6 606.1L777.3 607.6L777.7 609.1L779.6 611.2L782.4 610.2L784.1 612.5L787.1 611.9L786.7 614.2L786.5 616.5L787.2 618.9L787.8 621.3L789.8 622.8L792.3 622.8L794.7 621.0L797.1 622.7L797.3 621.6L796.6 625.0L793.9 624.4L791.6 625.1L789.2 625.8L791.7 625.8L794.1 625.8L796.4 624.5L798.9 624.7L801.4 624.1L803.9 624.1L806.1 625.2L808.3 626.4L810.6 627.2L812.7 628.4L814.6 629.8L816.2 631.9L818.8 631.0L821.2 631.1L823.9 632.7L825.3 629.9L826.6 628.0L827.7 626.0L828.6 622.9L831.4 624.2L833.8 624.7L836.2 625.3L838.7 624.9L840.8 626.2L843.0 627.2L845.1 628.3L847.5 628.9L849.0 631.0L851.1 632.2L853.7 632.2L855.6 630.5L858.1 633.2L860.6 633.7L862.7 632.0L865.6 633.4L866.7 629.6L869.4 629.6L871.6 628.5L872.6 625.9L875.0 625.1L877.2 625.2L879.3 626.5L881.5 627.7L884.1 627.4L886.0 625.7L889.0 627.2L890.8 625.9L892.7 627.2L895.9 627.4L892.8 628.9L892.6 630.9L892.2 633.0L890.8 635.1L890.2 637.4L889.1 639.8L891.5 642.1L889.8 644.6L890.9 646.9L889.8 649.0L889.0 651.2L888.0 653.3L886.9 655.4L887.3 658.4L884.7 659.7L883.9 662.0L883.1 664.3L882.6 666.7L881.7 668.9L878.2 670.1L879.2 673.0L878.8 675.4L876.8 677.2L876.7 679.9L875.5 682.1L873.1 683.2L871.7 685.3L869.4 686.0L867.1 686.7L864.9 688.0L862.5 687.9L860.1 687.2L857.7 687.7L855.3 687.7L852.8 687.2L850.5 687.8L849.3 685.6L846.3 685.9L844.5 684.2L842.2 683.4L839.8 684.1L837.6 682.1L835.2 682.2L832.8 682.9L830.3 681.7L828.0 682.5L825.3 681.8L823.8 684.9L821.6 685.9L819.4 686.8L817.2 688.0L814.9 688.5L812.9 690.2L810.0 689.0L807.8 690.5L805.4 689.8L803.1 689.3L800.5 689.9L798.6 687.3L796.2 687.0L794.1 685.7L791.5 686.3L789.1 685.8L786.7 685.5L784.2 686.5L782.4 682.8L779.8 683.8L777.6 682.3L775.2 682.0L772.8 681.9L770.3 683.1L767.9 683.6L765.5 681.8L763.1 682.5L762.0 680.4L761.2 677.8L758.4 678.7L756.4 675.9L753.8 676.9L751.5 675.9L749.2 675.7L746.8 675.8L744.3 675.4L742.7 673.3L740.3 672.7L738.6 670.6L736.1 670.4L733.7 670.0L731.8 668.0L729.2 668.1L726.7 668.3L724.3 668.5L722.0 668.6L719.6 667.5L717.3 668.3L714.8 668.0L712.9 670.2L710.1 669.3L708.3 671.3L705.5 671.4L702.7 671.8L702.0 674.8L700.1 676.6L700.2 679.3L700.0 681.7L699.3 684.0L699.4 686.5L701.2 688.5L701.3 690.7L699.3 691.6L697.5 693.3L695.4 694.1L693.0 693.5L691.1 696.2L688.8 695.5L686.8 693.8L683.8 695.7L681.7 694.3L679.7 692.8L677.4 691.9L675.6 690.0L673.3 689.3L670.7 689.4L668.3 688.9L665.9 688.5L663.7 687.5L661.7 685.9L659.7 684.3L657.0 684.8L654.9 683.5L652.4 683.5L649.6 684.0L647.8 682.3L647.0 679.8L645.1 678.2L644.9 675.4L642.1 674.9L640.2 673.7L637.7 673.6L636.3 670.4L633.4 671.7L631.4 670.0L628.6 671.3L626.7 669.0L624.0 669.8L621.7 669.1L619.6 667.4L617.2 668.4L614.8 667.8L612.4 668.2L610.0 668.9L607.6 668.0L605.2 668.3L603.2 666.6L601.0 665.7L598.3 665.6L596.6 663.7L595.1 661.8L593.5 659.7L590.2 661.0L588.6 658.6L586.6 657.3L584.0 657.2L582.6 655.3L581.4 653.7L581.4 651.5L584.7 651.8L585.7 649.0L587.6 647.6L590.8 647.7L592.1 645.5L593.7 643.4L592.8 641.2L592.0 639.0L590.8 636.9L590.7 634.2L588.8 632.5L587.6 630.5L586.0 627.7L589.0 627.0L589.7 625.8L591.0 624.7L592.9 623.0L592.5 622.3L590.0 622.5L587.6 622.8L585.5 623.2L583.0 624.6L584.2 621.0L581.7 620.2L579.5 619.4L577.2 620.4L574.7 619.1L572.3 619.0L570.0 620.4L567.1 619.3L565.5 621.7L563.7 623.6L561.1 622.7L558.7 622.8L556.3 622.9L553.9 623.5L552.2 621.1L549.2 622.6L546.8 623.0L544.6 620.8L542.2 620.5L539.7 618.7L537.6 622.9L535.2 622.7L532.8 623.0L530.5 623.6L528.4 625.4L525.9 624.9L523.5 625.4L521.1 626.6L518.7 624.7L516.3 624.7L513.9 624.4L511.5 624.3L509.2 623.1L506.8 624.6L504.3 623.1L502.0 624.2L499.5 623.5L497.4 626.2L494.7 624.2L492.6 626.0L490.2 626.4L488.0 627.5L485.6 628.2L483.0 626.9L480.6 626.8L478.2 626.8L476.1 628.6L474.1 629.4L471.4 629.3L469.3 630.6L466.8 630.9L465.0 632.6L463.1 634.4L460.2 633.5L458.1 634.6L456.0 635.8L454.2 637.8L451.0 636.5L449.1 638.2L447.7 640.5L445.3 641.2L442.6 640.1L440.5 641.8L438.0 641.8L435.8 642.5L433.5 643.2L430.9 643.6L428.9 641.8L426.5 641.4L424.1 642.4L421.7 641.2L419.3 640.6L416.9 641.6L414.5 641.3L412.1 640.7L409.7 640.2L407.3 641.6L404.8 643.8L402.7 641.6L400.4 640.8L398.7 639.0L395.9 638.2L396.6 635.1L394.6 636.0L392.3 635.6L390.1 635.9L388.1 637.5L389.1 640.4L387.8 642.6L386.3 644.5L385.2 646.7L384.2 648.9L382.1 650.4L379.9 651.6L379.5 654.5L378.0 656.8L374.7 655.9L373.1 657.9L371.1 659.2L368.9 660.3L366.8 661.7L364.7 662.9L362.1 662.6L359.7 663.2L357.8 664.6L356.4 666.6L353.7 667.1L351.4 668.1L351.1 671.2L349.0 672.5L349.7 675.2L348.0 677.1L346.4 678.9L345.2 681.0L343.1 682.5L341.9 684.7L342.4 687.2L343.2 689.7L342.1 692.1L343.1 694.2L345.5 695.2L344.5 697.6L345.5 700.2L344.1 701.7M851.1 699.5L851.5 701.9L851.1 703.9M848.1 685.8L848.3 688.1L847.4 690.6L847.5 693.2L849.7 695.1L851.0 697.2L851.1 699.5M573.3 556.5L572.7 559.1L573.0 561.4L574.0 563.7L575.6 566.0L574.6 568.3L573.2 570.3L572.2 572.2L570.8 573.8L568.7 572.8L567.3 571.3L565.3 570.4L564.6 568.1L565.4 565.8L562.9 563.3L565.5 562.3L567.5 561.4L569.9 561.2L571.9 559.8L572.0 557.3L573.3 556.5M570.9 575.8L573.0 576.9L574.4 579.1L577.2 579.5L577.3 582.0L579.6 584.4L577.3 586.8L578.0 589.3L577.1 591.7L575.9 593.9L576.5 596.5L575.3 598.8L573.0 597.0L570.4 597.5L567.7 598.4L567.1 600.8L565.0 601.9L562.6 601.0L561.3 599.6L562.2 597.2L562.9 594.8L561.6 592.4L560.7 590.0L562.5 587.5L562.2 584.7L560.7 582.6L558.3 581.9L558.5 579.3L560.7 578.3L563.2 578.6L565.6 579.3L568.8 579.8L570.0 577.1L570.9 575.8M609.9 613.7L611.0 611.8L612.4 610.3L614.9 610.5L617.1 609.3L619.5 608.8L621.9 609.5L624.4 609.4L626.7 609.9L629.2 609.7L631.4 611.0L633.9 612.4L636.3 611.0L638.6 610.5L640.8 609.3L643.1 608.4L645.6 607.8L647.7 609.0L645.0 610.7L644.5 613.2L643.4 615.4L642.4 617.1L642.1 619.6L641.9 621.6L643.3 623.6L642.0 625.5L640.1 627.0L638.1 623.6L635.1 626.4L633.2 624.2L630.8 623.8L628.6 622.9L626.8 621.0L623.8 621.6L622.6 618.7L619.9 618.9L618.0 617.2L615.9 616.0L613.7 614.9L611.7 613.5L609.9 613.7M743.1 638.5L745.5 638.7L747.9 637.9L750.1 639.6L752.6 639.1L755.0 639.2L757.2 641.0L759.6 640.8L762.0 641.2L764.4 640.3L766.8 641.3L769.2 640.8L771.6 640.4L774.0 640.7L775.6 641.7L775.0 643.6L773.0 643.3L770.9 644.0L768.6 645.2L766.1 644.6L763.8 645.6L761.3 645.0L758.9 645.3L756.5 644.9L754.2 644.0L752.2 642.1L749.4 643.6L747.3 641.9L744.9 641.7L742.0 642.1L743.1 639.4L743.1 638.5M849.3 647.2L847.3 645.1L848.9 643.4L851.1 642.0L853.5 641.7L856.2 643.3L858.2 640.9L860.7 641.6L863.2 641.3L865.1 639.3L867.7 639.6L870.3 639.8L872.1 637.5L874.4 636.3L873.6 637.6L871.6 639.0L869.1 639.6L867.5 641.7L868.7 644.1L868.2 646.0L865.5 645.6L863.4 646.9L861.2 647.8L858.3 647.3L856.6 648.9L854.2 649.2L852.4 647.0L850.0 646.5L849.3 647.2M489.3 595.0L492.2 594.6L493.0 592.0L495.0 590.8L497.3 590.2L499.7 590.0L501.4 592.1L499.8 593.3L500.0 596.5L497.5 597.5L495.6 595.3L492.8 596.2L490.6 595.2L489.3 595.0M506.1 589.0L508.4 589.6L510.6 590.6L511.3 591.3L508.8 591.0L506.6 590.0L506.1 589.5M474.9 601.0L477.2 600.5L479.4 599.7L478.1 600.9L476.1 601.8L474.9 601.0M792.9 631.9L795.2 631.1L796.7 628.6L798.8 628.9L798.2 631.2L797.2 633.6L794.7 635.1L792.5 634.0L792.9 631.9M771.3 597.8L773.7 597.3L776.0 597.4L778.2 597.2L779.1 599.5L778.0 600.5L775.5 600.1L772.8 601.0L771.6 598.4L771.3 597.8M771.3 605.5L773.8 605.4L774.2 608.0L772.8 608.4L771.7 607.7L771.4 605.5L771.3 605.5M779.7 614.2L782.1 614.7L784.6 614.0L783.4 614.6L781.0 616.0L779.7 614.2M736.5 601.6L738.7 600.5L741.2 600.5L742.9 602.5L745.7 602.1L748.5 601.9L750.5 603.6L750.8 607.1L752.9 608.4L755.1 609.4L754.8 610.9L752.7 611.2L751.2 608.6L749.1 607.6L746.2 607.9L744.3 606.5L742.6 604.7L740.3 603.8L738.6 601.9L736.5 601.6M765.3 622.5L767.2 622.1L766.9 622.2L765.3 622.5M759.3 613.1L759.0 615.3L758.2 612.7L759.3 613.1M706.5 608.2L708.8 608.5L709.1 608.9L707.4 610.7L705.7 609.5L706.5 608.2M696.3 591.7L698.3 593.0L700.6 593.1L700.4 595.3L700.5 593.9L697.2 595.6L697.5 592.2L696.3 591.7M632.7 634.0L634.7 635.5L635.1 635.1M578.1 419.0L580.3 417.6L582.8 417.6L585.4 417.3L587.0 419.9L590.0 420.2L589.4 422.5L588.0 423.6L585.7 423.3L583.2 423.8L581.0 423.0L579.3 421.2L577.4 419.6L578.1 419.0M592.5 416.8L595.1 417.1L597.2 415.6L599.2 414.2L601.6 413.7L604.4 415.3L606.4 413.2L608.7 412.0L610.7 413.6L612.7 414.9L613.2 418.3L610.2 419.4L606.1 418.6L609.0 420.7L606.8 421.1L606.4 423.6L604.2 424.8L602.2 423.0L599.7 422.9L597.5 421.6L595.4 421.8L594.5 420.0L593.6 417.8L592.5 416.8M592.5 426.7L594.9 427.3L597.3 426.5L599.7 426.2L602.1 426.7L602.8 428.6L601.0 428.6L598.6 428.9L596.2 428.5L593.8 427.8L592.5 426.7M636.9 421.8L639.5 421.0L642.1 422.2L641.4 424.4L639.5 422.3L638.0 422.2L636.9 421.8M678.9 402.5L679.1 400.0L680.5 398.0L681.4 395.8L682.9 393.3L685.6 393.5L687.8 392.3L687.9 393.5L686.3 395.5L685.1 397.3L684.4 399.7L683.3 402.1L680.7 402.8L678.9 402.5M657.3 411.3L657.8 408.9L660.5 407.5L660.9 405.1L661.9 403.0L662.3 400.1L665.6 400.3L665.8 400.1L663.4 401.8L663.0 404.2L661.8 406.2L660.8 408.4L659.8 410.7L658.5 410.8M723.3 388.2L724.7 385.9L727.3 386.3L729.8 387.0L731.9 384.3L734.3 384.5L736.7 386.5L738.4 386.7L739.1 386.5L735.6 385.2L734.4 388.1L732.5 389.5L729.7 388.9L727.9 390.6L726.4 389.8L723.5 389.8L723.3 388.2M725.7 381.6L727.6 379.9L730.2 380.0L732.4 379.8L735.4 379.1L736.6 381.5L733.7 381.7L731.8 384.0L729.3 383.4L727.4 380.6L725.7 381.6M695.7 367.3L697.6 365.8L700.1 365.4L701.5 367.6L704.0 367.0L701.8 368.2L699.5 370.3L697.8 366.5L695.7 367.3M371.7 346.4L373.7 345.0L375.8 343.7L378.3 343.0L380.8 343.4L383.0 344.3L382.7 345.8L381.0 347.4L378.7 349.1L378.6 351.5L378.6 352.2L376.0 352.3L375.8 349.0L373.1 348.4L372.9 345.3L371.7 346.4M441.3 367.9L442.0 365.4L443.8 363.6L445.2 361.4L448.3 362.1L450.6 360.5L448.9 362.7L448.1 365.0L447.0 367.2L444.7 368.3L444.3 370.2L442.7 368.3L441.3 367.9M420.3 380.5L422.8 380.4L424.9 379.1L427.3 378.7L429.4 377.5L430.7 378.5L427.7 379.4L426.3 380.6L424.3 382.5L422.6 380.0L420.3 380.5M376.5 393.7L378.5 392.3L380.6 391.1L381.7 388.7L383.3 386.8L385.0 386.9L386.3 388.7L383.8 390.1L382.3 391.7L380.7 393.7L378.0 392.3L376.5 393.7M371.7 401.4L373.9 399.7L373.6 397.0L376.8 394.9L374.7 398.3L372.3 399.8L372.9 401.4M381.3 398.6L383.3 397.3L385.2 395.6L387.0 396.3L387.6 398.8L388.1 399.3L386.8 400.3L384.7 401.0L383.0 400.9L381.2 399.2L381.3 398.6M384.9 410.2L387.1 409.2L389.4 408.5L390.8 408.8L390.1 410.7L387.5 410.2L385.1 410.2L384.9 410.2M383.7 416.8L385.3 414.5L387.9 414.6L389.3 417.9L386.1 417.0L383.6 417.7L383.7 416.8M403.5 434.4L406.2 434.0L407.3 430.5L407.6 432.7L406.3 433.6L404.0 434.2L403.5 434.4M352.5 248.5L354.7 247.2L357.3 247.9L359.8 248.5L361.9 246.3L364.3 246.5L365.4 247.7L363.0 248.9L360.3 247.9L358.2 249.4L355.7 249.4L353.2 250.8L352.9 248.4L352.5 248.5M687.3 211.7L689.7 211.7L692.1 209.6L690.5 211.2L688.1 211.6L687.3 211.7M150.3 613.1L152.7 613.9L155.1 614.0L157.5 613.2L158.4 614.5L155.9 615.9L153.6 614.5L151.3 613.5L150.3 613.1M132.3 603.2L134.8 602.7L135.6 604.3L133.6 602.8L132.3 603.2M118.5 606.0L121.0 605.4L122.9 607.4L122.2 606.8L119.9 606.7L118.5 606.0M120.9 603.6L123.0 604.9L125.4 605.3L126.9 605.5M114.9 604.9L117.1 606.2L117.3 605.5M253.5 668.7L255.9 668.5L258.5 667.5L258.7 668.8L257.4 670.6L255.4 668.7L253.5 668.7M158.1 622.7L160.2 623.5L158.3 622.9L158.1 622.7M763.9 616.7L762.5 614.7L760.8 615.7L762.8 616.8L763.9 616.7M766.5 617.5L764.1 616.6L765.0 620.0L766.5 617.5M764.1 622.0L762.8 621.9L762.7 622.4L764.1 622.0M754.9 625.8L753.2 626.9L752.6 626.6L754.8 625.9L754.9 625.8M764.9 625.6L763.7 625.7L764.9 625.3L764.9 625.6M766.6 629.1L765.8 629.3L766.7 627.3L766.6 629.1M773.1 623.3L771.3 624.6L769.8 625.9L772.3 624.3L773.1 623.3M753.5 615.9L751.6 615.1L752.8 617.4L753.5 615.9M760.0 617.5L759.7 617.5L759.8 618.2L760.0 617.5M737.7 630.8L736.0 627.5L734.8 631.3L737.1 632.3L737.7 630.8M787.1 637.7L785.8 636.4L785.6 636.9L786.6 638.8L786.8 639.7L787.1 637.7M788.2 623.4L785.8 622.9L783.3 624.1L784.8 625.9L787.0 624.0L788.2 623.4M785.5 622.5L781.9 621.0L785.0 623.4L785.5 622.5M776.7 615.5L774.2 614.9L771.1 616.0L774.0 615.8L776.5 616.0L776.7 615.5M765.9 590.6L764.0 589.3L761.4 589.5L763.2 590.0L764.6 592.7L765.9 590.6M757.7 581.8L755.9 580.9L756.0 581.8L757.3 581.9L757.7 581.8M768.3 584.5L766.2 584.2L767.3 586.3L768.3 584.5M756.2 602.6L755.6 600.2L755.7 602.4L755.2 603.0L756.2 602.6M746.0 599.5L744.0 598.1L742.5 598.8L743.1 599.7L745.6 599.5L746.0 599.5M711.4 614.3L710.7 612.6L708.4 612.9L709.0 615.9L711.4 614.3M709.0 603.8L708.3 602.7L706.6 604.7L708.9 605.1L709.0 603.8M772.5 587.9L770.2 586.9L770.0 587.6L772.0 589.1L772.5 587.9M785.7 625.8L783.4 625.7L783.0 626.2L785.2 624.6L785.7 625.8M751.6 611.5L750.3 611.8L751.6 611.5M742.9 614.6L741.0 614.6L742.9 614.6M773.7 598.3L770.4 596.3L773.1 598.2L773.7 598.3M637.1 534.0L635.7 531.9L634.6 534.0L635.8 535.7L637.1 534.0M634.0 536.0L633.7 533.2L631.2 534.1L633.0 536.5L633.8 538.5L633.7 537.7L634.0 536.0M641.1 539.5L639.2 538.3L638.9 538.9L640.5 540.5L642.1 542.8L642.3 540.6L641.1 539.5M662.7 553.0L660.3 553.1L657.9 552.4L657.3 554.0L660.0 553.1L662.3 552.8L662.7 553.0M666.9 554.6L664.5 553.3L662.1 553.6L659.6 553.9L657.4 555.1L659.6 555.6L662.1 556.8L664.4 554.7L666.8 554.6L666.9 554.6M666.3 557.0L663.9 556.8L661.4 556.1L660.9 558.5L663.7 556.9L666.0 556.4L666.3 557.0M673.1 559.7L671.1 557.8L668.7 559.6L669.5 559.8L672.0 560.4L673.1 559.7M642.1 545.1L640.1 544.2L639.9 545.5L642.7 545.9L643.4 546.9L642.1 545.1M655.9 556.0L654.1 556.1L655.9 556.0M721.4 366.5L719.0 365.9L717.7 368.3L716.2 368.7L719.3 369.9L720.9 367.2L721.4 366.5M725.7 369.9L723.3 370.3L721.1 368.9L722.6 370.7L725.1 371.0L725.7 369.9M731.1 369.0L728.7 367.1L727.8 370.0L730.6 369.9L731.1 369.0M716.3 364.5L714.1 363.9L715.1 363.7L716.3 364.5M686.1 374.3L684.4 375.4L685.4 375.9L686.1 374.3M688.1 377.5L688.1 378.8L687.7 377.6L688.1 377.5M624.9 430.5L623.1 429.1L620.7 429.3L618.1 429.4L618.1 432.0L620.8 432.1L623.7 433.3L624.9 430.5M630.7 436.4L628.9 435.0L626.8 434.6L627.3 436.3L629.7 437.9L630.7 436.4M589.1 425.6L587.6 425.2L587.5 425.7L588.4 426.3L589.1 425.6M586.0 424.5L585.1 424.2L585.8 425.2L586.0 424.5M597.9 421.2L597.1 421.7L597.9 421.2M609.9 425.0L607.8 424.9L606.5 426.1L609.3 425.3L609.9 425.0M588.4 415.1L586.7 414.1L587.6 416.6L588.4 415.1M600.3 405.8L597.7 405.1L599.9 406.4L600.3 405.8M592.5 399.4L590.2 399.2L592.2 398.5L592.5 399.4M561.9 427.8L559.5 426.7L561.0 429.7L561.9 427.8M561.2 425.6L560.6 425.0L560.6 427.1L561.2 425.6M563.6 422.9L562.7 423.1L563.6 422.9M546.9 438.8L544.5 437.9L542.1 438.8L544.4 438.9L546.7 437.2L546.9 438.8M554.7 438.2L552.4 439.3L552.2 438.4L554.6 438.6L554.7 438.2M537.3 441.2L534.9 441.3L531.1 441.0L534.8 442.9L537.3 441.8L537.3 441.2M527.7 441.8L525.3 442.0L523.0 442.4L525.4 443.1L527.5 441.7L527.7 441.8M519.1 445.2L519.2 445.2L519.4 446.3L519.1 445.2M691.9 258.5L689.7 259.7L687.5 259.5L683.5 260.0L687.1 260.9L689.1 259.3L691.0 258.2L691.9 258.5M673.5 264.2L671.7 266.2L668.1 264.4L667.7 267.3L669.2 267.8L671.2 266.7L673.0 265.4L673.5 264.2M652.7 270.3L650.6 269.0L648.1 269.8L646.6 272.2L648.8 273.9L650.9 272.9L652.7 271.8L652.7 270.3M646.2 274.7L644.0 275.7L641.7 275.8L640.0 277.1L641.9 278.1L643.7 275.8L646.1 275.2L646.2 274.7M740.0 250.0L737.6 248.0L735.2 249.7L732.6 251.1L735.0 252.0L737.5 251.4L739.7 250.5L740.0 250.0M729.8 253.2L727.3 252.5L725.7 254.7L725.1 254.8L727.0 253.7L729.1 252.8L729.8 253.2M707.6 257.2L705.2 256.5L703.0 257.6L700.7 258.4L702.8 259.3L705.0 257.9L707.5 257.9L707.6 257.2M771.9 248.0L769.7 247.3L767.2 246.9L766.0 248.9L768.9 248.6L771.3 248.9L771.9 248.0M401.3 385.4L398.0 384.9L402.2 390.5L395.8 388.8L397.3 393.0L392.4 391.7L392.7 392.8L389.2 393.1L393.1 396.5L390.1 397.6L393.8 400.9L389.6 402.3L392.2 406.9L387.7 404.4L387.4 405.3L387.4 407.1L389.0 405.1L390.9 409.2L394.2 403.2L393.6 409.3L397.3 411.9L391.8 411.8L394.1 414.4L392.6 416.9L397.3 419.7L391.2 419.1L391.3 421.3M382.6 409.3L384.2 408.6L385.7 409.3L384.2 410.0L382.6 409.3M386.1 410.3L387.8 408.9L389.5 410.3L387.8 411.7L386.1 410.3M389.9 409.1L390.9 408.0L391.8 409.1L390.9 410.1L389.9 409.1M388.6 415.5L390.2 414.4L391.7 415.5L390.2 416.5L388.6 415.5M387.3 417.8L388.7 416.6L390.1 417.8L388.7 419.0L387.3 417.8M593.7 379.4L596.6 378.7L599.5 377.9L601.8 377.3L599.9 374.4L602.2 371.9L604.4 369.9L607.6 370.0L609.9 368.0L611.3 365.7L611.1 362.9L609.4 360.4L608.8 358.2L611.1 356.5L613.3 354.8L613.1 353.5L610.1 352.7L607.4 351.4L607.0 349.1L608.3 346.3L607.2 343.6L605.5 341.2L605.6 338.3L605.3 335.4L603.5 332.7L607.0 331.6L609.2 329.6L610.8 326.9L613.3 325.2L616.4 325.7L619.4 324.4L622.5 325.7L625.3 324.6L627.7 322.8L629.4 320.6L626.9 319.4L624.7 318.7L627.3 317.3L629.3 315.0L632.0 313.6L634.8 311.8L634.1 308.6L634.2 305.6L634.9 302.9L636.7 300.5L639.9 300.2L642.3 298.3L645.3 297.7L647.9 296.2L651.2 296.1L653.7 294.3L656.2 292.6L657.7 290.4L655.5 286.4L659.0 284.6L662.6 284.6L665.0 282.9L667.4 281.1L669.9 279.4L672.6 278.1L675.4 276.9L678.4 277.2L681.2 276.5L684.1 277.1L687.3 274.6L690.2 277.1L693.2 276.9L696.2 276.9L699.1 277.5L702.0 276.3L703.5 273.6L705.4 271.3L707.1 269.8M707.1 269.8L710.3 269.7L712.8 271.8L715.9 272.1L718.5 273.6L721.1 275.3L724.0 276.0L726.9 277.0L730.0 276.8L732.7 278.5L735.9 277.9L738.3 279.9L741.4 280.4L744.0 282.0L743.9 284.2L743.2 287.0L743.1 289.9L744.6 292.5L745.7 295.3L747.7 297.6L748.0 300.7L749.8 303.3L750.3 305.7M707.1 269.8L710.1 269.1L713.2 270.3L715.8 268.6L718.6 267.4L721.2 268.5L724.3 269.0L726.9 270.5L729.1 272.8L732.2 272.8L734.9 274.4L738.0 274.5L741.0 274.6L744.0 275.1L747.0 274.0L750.0 275.6L753.0 274.9L756.0 274.4L759.1 275.4L761.8 273.9L765.0 273.7L767.2 271.3L770.0 270.3L771.6 267.8L772.1 264.8L773.9 263.3L776.4 262.0L779.3 261.3L782.2 260.6L785.3 260.5L788.1 259.3L791.1 259.3L794.2 259.6L796.9 259.5L799.7 260.1L802.5 261.2L805.5 261.6L808.6 261.8L810.8 263.2L809.4 266.0L808.7 268.9L807.9 270.0M807.9 270.0L810.8 268.9L812.8 266.5L815.8 265.8L818.7 265.0L821.2 262.3L824.3 263.9L827.3 263.8L830.1 263.8L831.2 262.6L830.7 261.7M807.9 270.0L805.2 271.2L802.7 271.9L804.8 274.2L805.4 277.3L806.6 280.0L810.0 279.9L812.8 281.1L815.5 282.3L818.3 283.9L818.1 285.7L816.3 288.4L813.3 289.4L810.7 291.0L808.7 293.0L809.9 295.8L812.7 297.3L814.7 299.5L816.7 301.8L818.8 303.9L821.0 306.0L820.8 308.5L820.2 311.6L818.5 314.0L818.1 315.9L820.1 317.8L821.6 320.7L824.5 322.0L825.8 324.2L826.4 325.8L823.0 326.2L821.4 328.2L823.0 329.6L825.9 330.3L828.5 331.8L830.9 333.7L833.8 334.7L836.0 337.1L840.2 336.9L838.6 339.8L835.1 340.6L833.1 342.8L830.7 344.6L829.4 347.9L825.9 348.2L823.7 350.3L821.9 352.9L819.4 354.6L816.8 356.0L813.6 356.2L810.9 357.5L808.1 358.6L805.1 359.1L802.4 360.5L799.8 362.2L796.7 362.3L794.1 363.5M796.5 375.0L794.4 377.1L792.4 379.4L788.9 380.6L790.1 383.8L791.0 386.7L790.5 389.7L789.8 392.7L790.0 395.7L789.3 396.5M752.7 392.9L755.8 393.4L758.5 391.1L761.7 392.3L764.7 390.7L767.3 393.3L770.4 393.1L773.2 394.2L776.3 394.1L779.2 394.9L782.3 394.6L785.2 395.6L788.0 396.8L789.3 396.5M789.3 396.5L791.9 397.9L793.9 399.9L794.3 402.8L795.6 405.5L797.1 408.2L797.6 411.2L798.3 411.9M713.1 412.7L715.9 411.5L718.6 410.2L721.4 409.1L724.5 408.9L727.5 408.9L730.5 409.4L733.5 409.7L736.5 409.3L739.5 409.5L742.6 409.1L745.5 410.8L748.5 410.6L751.4 411.5L754.5 410.9L757.4 411.5L760.3 412.3L763.4 412.2L766.2 413.4L769.0 414.4L772.1 414.5L775.0 415.4L777.8 416.5L779.7 417.0M779.7 417.0L782.4 415.6L785.7 416.3L788.6 415.4L791.0 412.9L794.0 412.4L797.0 412.2L798.3 411.9M779.7 417.0L781.6 419.5L780.6 421.2L778.1 422.4L775.3 423.6L772.1 423.7L769.8 425.8L768.3 428.5L767.0 431.2L764.6 432.6L762.0 434.0L758.9 434.3L755.9 434.8L753.4 436.8L750.4 435.5L747.3 436.4L744.3 437.1L742.5 436.0M742.5 436.0L739.7 434.9L736.9 433.8L734.5 431.9L734.1 431.6M734.1 431.6L732.3 429.1L731.4 426.5L730.0 423.8L726.8 424.5L723.9 423.5L721.0 422.9L718.0 422.4L716.1 421.8M698.1 430.5L701.1 430.7L704.1 430.5L707.1 430.8L710.1 430.7L713.1 431.7L716.1 432.0L719.1 431.5L722.1 431.9L725.1 431.2L728.1 431.4L731.1 431.8L734.1 432.0L734.1 431.6M742.5 436.0L742.8 439.1L743.8 441.9L745.3 444.6L746.3 447.4L746.5 449.8L744.2 451.2L741.2 452.0L738.9 454.2L740.6 456.6L741.5 459.7L743.7 461.8L744.3 461.9M744.3 461.9L745.8 464.5L747.7 466.8L748.8 469.5L748.1 471.6L746.0 473.7L743.6 475.6L741.2 477.3L738.9 479.2L736.6 481.0L734.7 483.4L733.4 486.1L732.6 489.1L731.7 489.4M731.7 489.4L728.7 489.2L725.6 489.2L722.7 488.4L720.0 486.7L716.9 487.0L713.9 486.7L711.1 486.8L708.2 487.5L705.1 487.4L702.2 487.8L699.5 487.2L697.1 485.3L694.3 483.8L691.1 483.8L688.1 484.2L686.7 485.0M686.7 485.0L683.9 483.9L681.7 481.7L679.1 480.1L676.0 479.6L673.0 479.5L670.3 477.9L667.5 476.6L664.5 476.2L661.8 474.9L659.2 473.3L655.9 473.7L653.5 471.4L650.5 471.0L647.4 470.9L644.5 470.0L641.7 468.7L638.9 468.9L638.1 469.9M638.1 469.9L639.5 467.2L639.5 464.1L638.4 461.7L637.5 458.8L635.6 456.5L634.4 453.7L632.8 451.1L630.8 448.9L631.1 446.2L633.7 443.9L632.9 440.9L632.7 437.8L631.5 436.6M638.1 469.9L635.5 468.1L632.4 468.4L629.7 469.2L627.1 470.6L624.2 471.5L621.4 472.6L618.3 473.0L615.6 474.2L612.8 474.9L609.9 475.9L606.7 475.8L607.6 477.0L609.1 479.6L611.2 481.8L613.6 483.6L615.3 486.1L617.4 488.4L620.2 489.6L622.6 491.4L625.4 492.6L626.1 493.2M626.1 493.2L629.1 493.1L632.1 492.6L634.8 490.6L637.9 491.3L640.8 491.3L643.8 491.1L646.5 492.8L649.6 492.6L652.4 494.0L655.7 492.3L658.4 494.4L661.5 494.0L663.9 494.9M663.9 494.9L666.9 494.5L669.5 492.6L672.3 491.7L674.7 489.9L676.9 487.8L680.0 487.2L682.6 485.8L685.8 485.9L686.7 485.0M663.9 494.9L665.0 497.7L665.9 500.5L666.3 501.5M666.3 501.5L669.2 502.3L672.3 501.4L675.2 502.8L678.3 502.0L681.2 502.9L684.2 502.7L687.0 502.8L690.2 502.9L692.4 500.5L695.0 498.9L698.3 499.2L701.1 498.1L704.0 497.4L706.8 496.5L709.7 496.9L712.7 496.1L715.7 497.3L718.7 496.5L721.7 496.9L724.7 497.5L726.3 497.1M726.3 497.1L727.9 494.6L730.6 492.8L731.4 489.7L731.7 489.4M666.3 501.5L663.9 503.5L660.4 502.9L658.1 504.9L658.2 507.8L658.0 510.7L657.3 512.8L654.4 513.6L653.7 514.1M626.1 493.2L624.1 495.5L621.3 496.8L618.9 498.7L616.0 499.6L614.2 500.8L614.8 503.5L616.6 506.0L615.1 505.6L612.1 507.7L609.4 505.3L606.3 506.8L603.3 506.2L600.3 505.5L597.3 506.4L594.3 506.1L591.3 507.1L588.3 506.9L585.3 507.0L582.3 508.0L579.3 506.9L576.3 506.7L575.7 507.0M575.7 507.0L572.8 506.4L569.8 506.0L566.8 505.6L563.9 505.5L560.9 504.9L558.0 505.8L555.0 506.0L551.9 505.8L551.7 505.9M551.7 505.9L551.2 502.9L551.9 499.9L554.2 497.9L555.0 494.8L557.6 492.9L558.6 490.5L555.7 489.8L552.7 489.6L549.8 489.0L547.0 487.7L544.0 487.5L541.1 486.6L538.2 485.8L537.3 485.5M537.3 485.5L537.9 482.7L537.2 480.3L534.5 478.7L533.7 477.9M533.7 477.9L536.0 475.5L535.2 473.0L532.6 471.3L532.5 471.2M532.5 471.2L532.6 468.2L534.0 465.5L534.5 462.7L532.9 460.3L533.4 459.0L536.3 458.3L539.3 457.9L542.2 457.8L543.9 455.4L544.4 453.1L541.6 451.5L542.4 449.5L543.8 446.7L546.2 444.8L546.9 444.3M564.3 425.6L567.3 425.8L570.2 426.5L573.3 426.0L573.9 426.7M501.3 464.6L504.3 464.5L507.3 464.5L510.3 465.2L513.3 464.3L516.3 464.4L519.2 464.0L522.2 463.6L525.1 464.7L527.8 466.0L530.3 467.0L528.9 469.6L529.9 472.3L532.5 471.2M491.1 467.4L493.5 469.3L496.4 470.2L499.6 470.3L501.7 473.0L504.8 473.6L507.6 474.7L509.9 476.9L513.0 477.2L516.3 476.4L518.8 478.1L518.7 481.4L521.8 481.9L524.5 483.1L527.5 483.5L530.1 484.5M530.1 484.5L530.1 481.5L531.3 480.0L533.0 477.5L533.7 477.9M530.1 484.5L533.3 483.2L535.9 486.1L537.3 485.5M551.7 505.9L548.9 507.0L545.7 507.1L543.7 509.5L541.0 510.9L539.0 513.1L536.4 514.7L533.7 516.5L533.7 519.6L534.9 521.9L537.8 519.8L540.8 519.7L542.6 520.8L544.6 523.0L545.1 524.6M545.1 524.6L544.1 527.4L544.0 530.6L541.1 533.1L543.7 535.7L545.0 538.5L543.1 541.5L545.9 542.4L549.0 542.1L551.5 543.9L551.5 545.3L550.5 547.7M545.1 524.6L548.1 523.8L551.1 523.7L553.9 523.5L556.6 522.7L558.7 520.6L561.5 520.1L563.4 520.1L566.4 521.3L567.5 524.9L569.0 523.2L571.5 521.3L572.6 519.1L575.5 518.8L578.4 519.6L581.5 521.8L582.5 518.2L584.2 515.8L585.9 514.1M585.9 514.1L583.1 513.1L580.0 513.2L577.1 512.0L576.3 509.8L575.7 507.0M585.9 514.1L588.8 515.1L591.9 514.5L594.8 514.0L597.7 513.2L600.8 513.3L603.8 513.1L606.7 511.9L608.4 514.2L610.4 516.2L613.4 516.3L616.4 517.0L619.5 516.6L622.3 518.3L624.9 518.0M624.9 518.0L627.9 518.5L630.8 519.2L633.9 518.8L636.8 519.0L639.7 517.9L642.6 517.2L645.4 516.0L648.3 515.2L651.5 515.6L653.7 514.1M624.9 518.0L622.7 520.0L622.5 522.2L623.6 524.7L624.6 527.7L626.1 527.9M623.7 529.2L626.8 530.0L629.7 528.8L632.6 528.2L635.7 527.1L638.5 528.8L641.5 529.0L644.2 529.1L646.2 526.8L647.3 524.0L648.5 521.4L651.1 519.8L654.0 518.9L657.1 519.0L659.7 518.3M659.7 518.3L657.4 516.4L654.5 515.2L653.7 514.1M659.7 518.3L662.5 519.6L664.6 521.8L667.2 523.2L670.0 523.6L673.0 523.4L675.9 524.0L678.9 524.5L681.9 524.3L684.9 524.7L686.1 524.6M686.1 524.6L689.1 524.6L692.0 523.6L694.9 522.8L697.9 522.2L700.8 521.7L703.5 521.9M703.5 521.9L706.4 521.0L709.4 520.3L711.9 518.6L715.1 518.2L716.8 515.6L718.7 513.3L720.9 511.2L722.0 508.3L723.9 505.7L726.9 504.8L729.5 503.2L732.2 501.9L735.5 502.0L735.3 501.5M735.3 501.5L732.7 499.9L730.1 498.5L727.4 497.2L726.3 497.1M735.3 501.5L738.3 501.6L741.3 500.6L744.3 501.3L747.3 501.6L750.3 501.8L753.3 502.3L756.3 501.7L759.3 502.6L762.3 502.4L765.3 501.2L768.3 501.3L771.3 502.1L774.1 500.5L776.9 500.0L780.0 499.6L780.3 498.8M780.3 498.8L782.7 500.6L784.5 503.0L786.9 504.9L790.0 505.9L791.5 508.8L792.9 511.5L795.1 513.6L797.2 515.8L798.2 518.6L798.1 521.7L798.5 524.6L798.6 527.6L798.9 529.5M780.3 498.8L783.4 499.2L786.1 496.9L789.1 497.1L792.1 496.8L795.1 497.0L797.7 498.8L800.7 499.4L803.5 500.4L806.5 501.1L808.8 503.1L810.6 505.6L812.6 507.9L815.1 509.6L817.8 511.2L819.3 513.9L820.4 516.6L821.2 519.0L818.8 520.6L815.6 520.6L812.8 521.5L809.9 522.5L807.0 523.5L804.6 525.4L801.8 526.6L800.2 529.6L798.9 529.5M798.9 529.5L801.9 530.3L804.9 529.6L807.8 530.9L810.9 530.5L813.9 530.3L816.3 530.6M703.5 521.9L706.4 523.0L708.0 525.9L710.5 527.6L713.0 529.2L715.4 531.0L717.1 533.1L717.6 535.8L719.6 536.7L722.5 538.2L725.6 537.4L728.6 537.6L731.1 538.9L731.5 542.2L732.9 543.3M732.9 543.3L735.0 545.4L736.5 548.4L739.8 548.4L742.8 547.4L745.8 547.9L748.8 548.8L751.8 547.3L754.8 548.0L757.9 547.8L760.8 548.9L763.7 549.8L766.7 549.0L769.6 548.4L772.3 546.9L775.2 546.1L778.0 544.9L781.2 545.4L783.9 543.4L787.0 543.9L789.8 545.1L792.7 545.7L795.5 546.9L798.6 547.0L801.5 547.7L803.7 548.2M732.9 543.3L730.9 545.6L729.6 548.3L732.1 549.3L733.3 552.5L735.7 554.0L735.1 556.3L731.5 556.7L730.0 559.3L729.3 562.2L728.7 564.2M728.7 564.2L731.4 565.6L734.1 567.0L736.8 569.1L736.1 572.4L735.9 574.6M735.9 574.6L738.9 574.3L741.8 573.7L744.8 573.2L747.8 573.2L750.9 573.7L753.8 571.4L756.8 572.8L759.6 573.8L762.3 575.1L765.2 575.3L768.2 575.7L771.2 574.9L774.2 574.7L775.2 571.8L776.7 570.8M776.7 570.8L779.5 569.7L782.0 567.9L784.6 566.9L787.5 567.1L790.5 567.6L793.6 566.5L796.5 567.4L796.5 567.7M776.7 570.8L779.0 573.0L779.3 575.6L777.5 578.2L775.2 580.1L773.1 581.2M735.9 574.6L733.0 575.7L730.0 575.8L726.9 575.6L724.0 576.6L721.5 578.7L718.2 578.0L715.6 579.8L712.6 580.2L712.5 580.1M712.5 580.1L711.7 583.1L710.3 585.7L708.7 588.2L706.1 589.6L703.8 591.6L701.1 593.0L700.5 592.8M712.5 580.1L710.4 577.9L707.7 576.4L705.8 574.1L707.3 571.1L707.7 568.9M693.3 568.9L694.5 566.2L694.8 563.0L696.8 561.4L699.9 561.2L702.2 562.9L704.2 565.0L706.7 566.8L707.7 568.9M707.7 568.9L710.3 567.4L713.2 566.6L716.1 565.6L718.9 564.7L721.9 564.6L724.9 565.1L727.9 564.5L728.7 564.2M701.1 561.5L702.9 559.1L703.1 558.0L701.6 555.3L698.4 554.9L695.5 553.9L693.4 551.5L691.5 551.0M691.5 551.0L689.4 553.1L688.2 556.1L685.0 557.2L682.8 559.3L681.9 562.0M691.5 551.0L693.1 548.5L695.2 546.2L693.6 544.7L691.6 542.5L689.3 540.6L691.7 538.0L692.5 535.3L689.4 534.2L688.4 531.2L688.2 528.2L686.5 525.6L686.1 524.6M688.5 536.1L685.6 535.2L682.8 534.3L679.8 533.9L677.0 532.6L673.7 533.7L670.9 532.4L667.9 532.0L664.9 532.4L661.9 532.1L658.9 532.4L656.0 533.4L653.3 533.1L651.2 534.5L649.2 536.9L652.4 538.5L653.5 541.5L655.5 543.7L657.5 546.0L660.3 547.3L662.4 549.5L664.7 551.3L666.7 553.7L669.3 555.2L671.4 557.4L674.1 558.8L676.9 560.1L679.9 560.7L681.9 562.0M744.3 461.9L747.3 461.6L750.1 460.4L753.1 460.0L756.0 459.0L759.1 459.6L762.0 458.4L764.8 460.7L767.9 460.1L770.9 459.6L773.8 461.0L776.8 461.0L779.9 460.7L782.9 460.6L785.9 460.5L788.9 461.0L791.9 460.5L794.8 461.9L797.8 462.7L800.8 462.5L803.7 463.1L806.7 463.7L809.7 463.5L812.8 463.1L815.6 464.9L818.7 464.1L821.5 465.8L824.6 465.8L827.5 464.5L830.4 463.8L832.3 461.2L835.0 459.9L837.8 458.6L840.5 457.3L842.1 456.4M798.3 411.9L801.1 413.4L804.2 413.2L807.3 412.5L810.1 414.0L813.3 412.9L816.3 413.2L819.2 414.3L822.0 415.2L824.4 416.8L826.5 418.8L828.8 420.8L831.2 422.7L831.4 425.0L831.6 427.5L831.5 430.2L834.3 431.7L836.3 434.0L839.3 434.8L842.0 436.3L845.0 436.8L847.4 438.7L850.2 439.9L852.2 441.5L850.1 442.1L847.3 443.4L844.1 442.6L841.4 444.6L838.4 444.3L837.9 446.2L838.8 449.1L840.4 451.7L840.7 454.8L842.1 456.4M842.1 456.4L845.0 455.2L848.0 455.6L851.1 455.5L854.0 455.0L857.0 454.6L860.0 454.6L863.0 454.2L865.9 453.9L868.4 455.3L870.0 458.0L872.5 459.8L874.9 461.6L876.9 463.9L878.3 466.7L881.5 467.7L883.2 470.3L884.8 472.9L887.3 474.6L890.0 475.9L893.1 475.8L896.1 476.0L898.8 477.6L902.0 477.1L904.8 478.1L907.6 479.8L910.7 479.4L913.6 480.0L916.6 480.7L919.6 480.7L922.5 481.5L925.5 481.9L928.6 481.5L931.4 483.2L934.5 482.7L937.5 482.7L940.3 484.1L943.4 484.1L942.0 487.3L940.3 489.8L940.2 493.0L938.5 495.5L937.9 498.5L940.2 501.5L938.4 503.8L935.1 502.7L932.1 503.1L929.1 503.8L926.3 503.6L923.9 505.5L921.9 507.7L919.8 509.9L918.9 511.4M940.5 552.1L943.5 552.5L946.4 553.3L949.5 552.9L952.4 553.3L955.5 553.1L958.5 552.8L961.4 554.1L964.5 553.4L967.5 553.2L970.4 554.2L973.2 555.3L975.7 557.3L978.4 558.6L981.1 559.9L984.6 559.1L987.1 560.4L990.0 559.9L993.1 560.4L996.0 559.5L999.0 560.0L1001.8 561.5L1004.9 561.4L1007.9 561.7L1010.1 562.0M959.1 572.8L962.1 572.0L965.1 573.0L968.2 573.3L971.1 572.0L973.7 573.1L976.8 573.7L979.6 574.9L982.1 576.6L981.9 577.4M981.9 577.4L984.1 579.5L985.7 582.1L984.1 584.9L983.8 587.9L986.0 589.4L989.1 589.5L991.9 590.6L994.7 591.6L997.9 592.4L996.0 594.0L993.5 595.7L991.3 597.8L988.6 599.9L989.6 603.0L992.0 605.2L992.6 608.2L993.7 611.0L995.8 613.4L996.6 616.3L996.5 619.7L998.1 620.6M981.9 577.4L984.8 576.4L987.9 577.6L990.8 576.3L993.9 576.7L996.9 576.6L999.9 577.2L1002.9 576.5L1005.7 578.2L1008.8 577.1L1011.7 578.7L1012.5 577.4M998.1 592.8L1000.3 594.9L1003.3 595.8L1006.1 597.0L1008.4 598.9L1010.9 600.7L1012.5 601.6M998.1 620.6L995.2 619.0L992.1 619.9L989.2 619.4L986.2 618.2L983.2 619.2L980.1 619.6L977.2 619.8L974.2 619.9L971.6 621.4L968.7 621.4M968.7 621.4L965.7 621.0L962.7 621.0L959.7 621.0L956.7 621.9L953.7 621.3L950.6 621.1L947.9 622.9L944.8 622.8L942.1 624.2L939.0 623.9L936.1 624.6L933.2 625.1L930.2 625.3L927.2 625.8L924.2 626.1L921.2 625.6L918.2 626.3L915.2 625.3L912.2 624.5L909.2 626.2L906.2 626.1L903.1 626.1L901.9 629.3L899.6 631.2L897.3 633.1L894.7 634.3L891.8 635.9L891.5 634.3M968.7 621.4L966.0 622.7L963.2 624.0L961.2 626.4L958.6 627.9L955.7 629.1L955.1 632.3L956.0 635.3L955.8 638.3L955.7 641.4L954.6 644.2L953.8 647.1L953.6 650.5L950.4 651.1L948.1 653.2L945.0 653.5L942.5 655.4L939.7 656.5L936.5 656.4L934.2 658.8L931.3 659.6L928.5 660.6L926.1 662.1M926.1 662.1L923.7 664.0L920.6 664.5L917.9 665.8L915.0 666.7L912.6 668.7L909.6 669.4L907.6 672.1L904.4 672.4L902.0 674.1L899.1 673.2L896.5 671.8L893.6 670.9L890.9 669.6L889.5 669.2M892.1 648.4L894.8 649.7L897.4 651.3L899.9 653.3L897.9 655.8L895.4 657.4L893.1 659.3L891.5 662.0L888.4 662.8L887.7 663.8M881.7 665.4L884.7 665.1L887.8 665.1L887.7 663.8M887.7 663.8L887.5 666.7L887.3 669.7L886.7 672.7L885.8 675.7L886.5 678.7L885.7 681.6L886.0 684.6L886.0 687.7L884.2 690.4L883.0 693.2L882.6 696.2L882.5 699.2L881.7 702.1L880.6 704.9L880.5 705.0M871.5 685.2L872.6 688.0L873.1 691.0L873.7 693.9L874.0 697.0L876.1 699.3L877.5 701.7L879.7 703.9L879.3 705.0M926.1 662.1L926.9 665.0L928.4 667.6L928.6 670.8L929.8 673.5L930.9 675.9M930.9 675.9L928.1 677.1L925.3 678.0L922.1 677.9L919.3 678.9L916.3 679.4L913.5 680.6L910.7 681.6L907.9 682.7L904.1 682.6L906.6 684.7L908.8 686.7L910.7 689.0L913.4 690.5L914.5 693.4L914.7 694.5L913.3 697.0L910.8 698.6L908.1 699.4L905.4 700.8L902.3 700.6L902.1 701.7M930.9 675.9L934.1 675.1L936.9 676.4L939.9 676.6L942.6 678.6L945.6 678.8L948.3 680.2L951.1 681.1L953.8 682.4L956.8 683.0L959.3 684.8L962.5 684.9L965.1 686.6L967.3 688.8L969.8 690.5L972.9 691.3L974.9 693.6L977.3 695.5L979.6 697.5L982.3 698.7L984.6 700.7L987.3 702.1L989.7 704.0L992.9 704.5L994.9 707.0L996.9 708.3M998.1 620.6L999.5 623.3L1000.8 626.0L1001.8 628.9L1003.9 631.1L1005.5 633.6L1008.3 634.8L1011.4 634.8L1012.5 635.7M762.3 681.4L761.8 684.4L760.1 687.0L758.8 689.7L758.5 692.7L757.3 695.5L757.2 698.3L759.4 700.5L760.5 701.7M599.1 664.6L597.5 667.5L598.3 670.5L596.0 672.0L593.8 674.1L591.1 675.5L589.4 678.3L586.3 679.2L583.5 680.7L583.2 684.0L583.6 687.0L584.7 690.1L583.0 693.0L583.1 696.2L580.2 696.8L577.1 696.6L575.1 697.0M563.9 623.0L562.4 625.7L559.5 627.2L559.4 629.9L559.3 632.9L560.8 635.8L560.7 638.8L560.8 641.8L558.6 644.1L557.2 646.8L555.1 649.0L554.6 652.3L552.0 654.2L549.5 656.8L552.9 658.7L553.9 661.7L556.1 663.8L558.3 665.9L560.8 667.6L562.6 670.0L564.5 672.4L565.9 675.3L568.9 676.5L569.9 679.2L571.7 681.8L571.5 685.0L573.5 687.5L573.2 690.8L574.1 693.6L574.6 696.6L575.1 697.0M575.1 697.0L574.1 699.8L573.3 701.7M434.1 643.4L436.2 645.6L438.1 647.5L439.4 649.6L440.4 652.6L440.4 655.6L440.4 658.6L440.3 661.6L441.0 664.3L442.2 667.1L443.9 669.6L445.6 672.2L445.9 675.2L442.1 673.7L439.3 675.3L436.3 675.5L433.3 675.8L430.3 675.9L427.4 676.6L424.2 676.4L422.0 678.8L419.4 680.2L417.3 682.0L418.3 685.1L416.7 687.9L415.2 690.1L412.1 690.6L409.5 692.5L406.1 691.7L403.3 692.8L400.8 694.6L398.4 696.5L396.8 699.1L394.5 701.1L392.2 703.0L392.1 703.9M354.3 568.9L357.0 567.4L360.1 567.5L363.0 566.3L363.2 569.7L366.1 569.2L369.2 569.3L372.0 567.9L375.1 568.5L378.1 567.9L380.9 568.7L383.8 569.3L386.0 571.6L383.8 573.3L381.3 575.0L379.4 577.3L377.8 579.5L377.4 582.5L378.9 585.5L378.0 588.4L377.2 591.4L375.4 593.6L372.4 593.9L372.5 593.9L373.3 596.7L375.5 598.7L375.9 601.1L374.4 603.7L373.0 606.3L376.0 607.9L375.8 610.5L374.0 613.1L371.7 615.0L371.2 617.5L371.7 620.3M438.9 552.1L441.3 553.9L443.5 556.1L446.6 556.0L449.5 556.9L452.2 559.1L455.4 557.5L458.3 558.6L461.4 558.0L464.4 558.5L467.4 557.8L470.4 558.7L473.2 559.9L476.1 560.6L479.4 560.1L481.5 563.4L484.8 562.8L487.7 563.1L490.7 562.9L493.7 561.6L496.7 562.1L498.3 562.8M373.5 424.0L370.6 424.9L368.8 427.7L365.9 428.8L363.2 430.2L365.0 431.2L366.9 434.3L370.3 433.9L373.2 432.8L375.8 430.4L378.3 432.4L380.4 434.7L383.3 435.1L385.5 434.4M833.7 255.7L830.8 256.5L828.1 258.0L824.9 257.5L822.0 258.2L819.1 259.6L816.1 258.9L813.2 257.3L810.1 259.1L807.1 258.5L803.7 257.1L806.3 258.3L809.0 259.6L811.8 260.7L814.8 261.2L817.7 261.9L820.6 262.6L823.5 262.1L826.5 262.4L829.5 262.0L832.5 261.7L835.5 261.8L838.5 261.9L841.4 260.9L844.2 260.0L847.2 260.5L850.5 259.2L853.0 261.9L856.0 262.2L857.3 264.7L857.0 267.5L857.4 269.3L860.3 268.1L863.4 268.3L866.4 268.1L869.3 266.9L872.2 267.9L875.2 268.8L878.2 269.0L881.3 267.9L884.2 268.5L887.1 269.5L889.8 271.1L893.0 270.7L896.0 270.8L898.9 271.7L901.7 272.8L904.4 274.1L907.4 274.6L910.0 276.4L912.8 277.3L916.0 277.3L918.8 278.2L921.7 278.5L924.6 279.5L927.6 279.8L930.7 279.4L933.7 279.2L936.7 279.6L939.5 281.0L942.1 282.5L944.9 283.6L947.7 284.5L950.7 285.5L953.4 287.1L954.8 290.1L954.6 293.0L953.9 296.1L950.8 296.8L948.4 298.8L945.2 298.8L942.4 299.6L939.4 300.3L936.6 301.2L933.5 301.4L930.5 301.7L927.6 302.6L924.6 302.7L921.6 302.7L918.6 302.6L915.7 301.9L912.9 301.0L909.7 302.2L906.8 301.3L903.6 302.3L900.7 301.1L897.8 300.5L894.9 299.4L891.9 299.4L889.0 298.8L886.1 298.0L883.1 297.5L880.2 296.8L877.3 295.6L874.2 296.5L871.2 296.1L868.2 296.1L865.2 295.8L862.2 295.8L859.3 294.2L856.6 293.6L853.5 293.4L850.9 291.9L850.5 291.3L852.1 293.8L854.5 295.7L856.5 297.8L859.2 299.4L862.0 300.5L865.2 299.9L868.1 300.9L870.6 302.6L873.4 303.8L876.2 304.8L877.8 306.8L878.1 309.6L878.0 312.6L878.9 315.3L881.4 317.0L883.4 319.2L886.3 320.4L888.6 322.3L891.6 322.9L894.5 323.7L897.1 325.6L900.1 326.1L903.2 325.2L906.1 326.2L909.2 325.9L912.2 325.8L915.1 327.0L917.8 326.3L916.0 323.6L914.2 321.2L911.3 320.5L908.3 320.3L905.1 320.9L902.8 318.6L900.8 316.5L898.0 314.8L901.3 312.7L904.3 313.0L907.1 314.6L910.2 314.5L913.1 315.0L916.0 316.0L918.8 317.3L921.7 317.7L925.0 317.1L927.7 318.4L930.6 318.8L933.6 318.5L936.6 318.7L939.6 318.6L942.6 319.4L946.2 320.6L945.8 317.4L943.7 315.2L941.8 312.8L939.6 310.8L937.9 308.3L941.5 307.5L944.2 306.2L947.2 305.7L949.6 303.4L952.9 303.8L955.6 302.4L958.6 301.9L961.3 300.6L964.1 299.8L966.9 299.7L969.9 300.0L972.9 300.7L975.8 301.3L978.9 300.5L981.9 300.9L984.7 302.1L987.5 303.3L990.2 302.6L992.8 300.8L994.6 298.1L993.2 295.5L991.4 293.0L989.2 290.9L989.3 287.9L987.4 285.4L985.8 282.8L985.5 279.6L983.5 277.3L981.3 275.0L984.1 274.7L987.0 276.2L990.1 275.3L993.0 276.7L996.1 276.0L998.8 277.6L1001.9 277.7L1004.6 279.2L1007.7 279.3L1010.9 278.5L1012.5 279.3M100.5 281.0L108.0 279.5L117.0 277.2L130.0 275.5L151.2 271.2L164.8 266.1L180.0 262.5L195.5 258.4L202.3 253.3L198.0 252.0L203.0 250.0M150.0 268.5L170.0 262.0L186.0 258.0L197.0 255.0M144.2 236.0L131.4 236.7L118.3 237.3L118.9 238.6L131.5 238.1L146.1 237.3L151.9 239.2L127.9 240.2L118.3 240.1L121.2 241.6L129.2 241.3L150.7 240.7L153.4 242.2L131.1 241.6L123.2 241.2L124.5 242.4L133.9 242.8L154.6 243.3L149.5 246.4L145.4 246.4L125.8 245.7L127.9 247.5L143.9 247.6L149.0 248.2L148.9 249.5L144.3 250.4L124.8 250.5L124.8 251.8L142.0 251.7L149.3 250.7L150.6 254.9L128.8 254.6L114.8 255.3L115.8 256.9L132.5 257.0L149.2 256.5M142.4 237.0L127.7 237.6L120.3 237.4L122.7 238.8L127.8 238.6L141.6 238.3L143.9 240.9L130.8 239.9L124.0 239.6L124.2 241.2L134.7 242.1L146.3 242.5L146.6 246.7L139.0 246.6L120.7 246.7L121.2 247.8L141.6 247.4L149.2 247.8L144.2 252.1L126.9 252.5L121.8 252.0L122.5 253.1L129.2 252.9L147.1 253.2M185.9 217.0L164.0 217.1L159.3 217.5L160.1 218.5L166.5 218.5L186.9 218.0L192.0 220.9L180.9 220.3L151.6 220.8L154.0 221.8L177.5 222.1L191.7 222.0L193.4 224.5L171.0 223.4L148.0 223.2L151.0 224.9L174.5 225.2L193.5 226.3L180.2 227.5L149.7 226.6L140.4 226.5L142.9 228.0L148.9 228.4L181.1 229.0M188.1 218.0L172.4 216.8L165.8 216.6L167.8 218.4L171.2 219.5L187.2 219.8L178.8 224.4L170.6 225.3L145.9 225.7L146.0 227.2L173.6 226.6L178.4 225.9L179.7 228.4L176.9 229.2L158.3 229.8L160.4 231.4L177.8 230.5L182.5 230.1M151.0 247.0L160.0 246.0L171.6 250.8L185.0 250.0L194.0 252.0L202.3 254.2M156.0 232.0L170.0 236.0L182.0 243.0L190.0 249.0L197.0 251.0M150.0 258.0L158.0 256.0L166.0 259.0L175.0 257.0M238.3 151.0L222.6 151.0L216.4 151.6L216.9 153.2L220.4 153.2L236.9 152.7L245.3 155.1L233.2 154.4L218.1 154.9L218.9 156.5L230.4 157.0L247.4 156.7L239.2 159.8L231.4 160.9L229.8 161.2L231.3 162.8L233.4 162.2L239.4 161.4L238.4 163.5L231.4 163.5L216.5 162.3L218.6 164.0L231.8 164.8L237.1 165.1L231.5 167.9L215.9 167.4L207.0 167.0L208.8 168.4L215.0 168.5L231.9 169.3L235.7 171.3L221.6 171.6L202.5 170.9L203.7 171.8L223.3 172.5L233.9 172.2L226.3 174.4L218.4 175.1L213.8 174.8L216.4 175.9L220.8 175.4L228.6 175.5L240.6 178.1L229.6 178.5L209.7 179.5L211.5 181.0L230.3 180.4L240.4 179.6L230.5 182.7L206.4 181.8L196.9 181.7L197.2 183.2L207.6 183.7L231.2 184.2L225.3 185.6L219.7 184.5L196.2 184.3L197.1 185.2L217.9 186.0L223.7 186.5L214.2 189.5L204.8 189.3L195.6 188.0L197.2 189.2L204.6 190.1L213.7 190.7L213.0 192.4L208.9 193.1L199.1 193.1L199.9 194.2L209.6 193.7L212.3 193.5L225.0 195.8L204.2 195.5L196.1 194.5L197.9 195.7L200.2 196.7L223.9 197.1L237.7 199.8L215.4 199.9L207.7 199.2L208.0 200.5L218.0 200.5L237.2 201.1L244.2 203.5L227.8 203.9L195.6 203.1L195.7 204.4L228.1 204.3L246.2 204.8L225.1 207.1L213.4 207.0L210.2 206.0L210.6 206.9L213.2 207.3L224.8 208.0L213.9 211.8L204.4 212.6L194.3 212.3L195.6 214.1L205.0 214.0L216.1 213.6M235.6 152.0L231.4 152.5L224.8 153.2L226.4 154.2L228.4 153.3L235.8 153.0L245.8 156.4L233.0 155.8L222.1 155.2L224.3 156.7L231.9 156.9L247.7 158.0L236.4 162.0L231.9 162.5L222.0 163.4L223.7 164.6L233.2 163.8L234.8 163.2L226.2 167.2L215.8 166.7L212.1 167.1L213.1 168.6L218.4 168.3L224.8 168.7L231.0 171.2L214.6 171.2L202.6 171.5L203.5 173.1L213.1 173.3L231.7 172.9L228.7 175.8L210.6 176.1L201.0 176.4L203.7 178.1L211.3 178.2L227.5 177.4L226.2 182.6L213.5 182.4L195.2 181.1L197.6 182.8L217.1 183.6L229.2 184.2L214.5 188.7L200.3 188.4L197.1 188.3L197.7 189.4L203.8 190.0L213.6 189.8L222.8 192.7L208.7 192.7L200.5 192.8L203.2 194.5L208.3 194.3L225.3 194.4L226.3 199.0L222.8 199.0L209.3 198.7L210.0 200.3L221.2 200.3L228.1 200.5L225.1 204.5L212.2 204.0L204.5 203.3L207.1 204.8L210.1 205.8L223.5 206.0L221.7 210.0L210.6 210.3L200.7 210.2L200.7 211.5L209.6 211.7L220.4 211.3M231.0 179.0L238.0 178.0L242.0 181.0L240.0 187.0L236.0 194.5L233.0 190.0L231.0 179.0M233.0 201.0L240.0 199.0L247.0 201.5L252.0 204.0L245.0 205.0L238.0 204.0L233.0 201.0M222.0 156.0L230.0 153.0L244.0 152.0L250.0 155.0L240.0 158.0L247.0 161.0L236.0 164.0L226.0 161.0L222.0 156.0M586.0 151.0L587.0 156.0L590.0 161.0L600.0 166.0L612.0 171.0L625.0 176.0L640.0 182.0L652.0 187.0L660.0 188.5L666.0 184.0L672.0 178.0L681.0 171.0L695.0 168.0L708.0 166.0L716.0 160.0L712.0 154.0L705.0 151.0M696.0 152.0L626.8 151.4L590.0 151.7L590.6 153.2L628.8 153.0L697.7 153.5L681.1 156.7L663.3 156.2L598.2 156.6L598.3 157.8L666.8 157.8L680.1 158.0L659.9 160.6L640.1 160.2L612.5 159.7L615.3 160.8L642.8 161.1L658.9 161.7L704.8 165.7L683.5 165.8L649.8 166.5L652.2 168.2L685.3 167.5L706.0 167.4L680.6 169.3L652.0 169.5L614.0 168.8L616.9 170.1L655.8 170.8L682.5 170.6L664.4 173.1L636.4 172.8L627.3 173.3L630.1 174.8L637.3 174.9L662.8 174.6L663.4 177.2L656.5 178.3L651.0 178.6L652.4 179.7L658.8 179.1L662.0 178.3L670.0 180.4L665.2 180.4L655.6 179.5L657.1 180.7L665.2 181.5L669.4 181.6L662.9 184.4L657.7 184.0L656.6 183.0L658.7 184.0L661.5 185.0L662.2 185.4M711.0 169.0L722.0 167.0L738.0 168.0L752.0 170.0L758.0 174.0L750.0 178.0L736.0 179.0L722.0 178.0L713.0 175.0L711.0 169.0M740.9 168.0L733.7 168.9L722.2 169.0L724.9 170.1L731.2 169.8L742.0 169.2L743.4 173.0L738.1 172.7L728.9 172.8L729.8 174.6L738.1 174.2L744.4 174.8M718.0 151.0L730.0 154.0L748.0 156.0L765.0 153.0L772.0 151.0M758.0 189.0L763.0 187.5L767.0 186.5L762.0 188.5L758.0 189.0M774.0 163.5L779.0 162.0L781.0 163.5L776.0 164.5L774.0 163.5M794.0 162.0L798.0 160.5L800.0 162.0L796.0 163.0L794.0 162.0M518.0 349.6L521.0 350.2L524.0 349.8L527.0 349.5L530.0 348.5L533.0 348.5L536.0 347.8L539.0 347.1L542.0 346.6L545.0 347.1L548.0 346.7L551.0 347.8L551.0 347.8L548.0 347.7L545.0 347.1L542.0 347.9L539.0 348.1L536.0 348.1L533.0 349.1L530.0 349.5L527.0 350.7L524.0 350.9L521.0 351.0L518.0 351.4M519.0 358.1L522.1 356.8L525.2 356.7L528.3 355.8L531.4 355.1L534.5 354.6L537.6 354.3L540.7 354.6L543.8 355.1L546.9 355.1L550.0 355.2L550.0 355.7L546.9 355.6L543.8 355.5L540.7 355.6L537.6 355.1L534.5 355.2L531.4 356.1L528.3 356.6L525.2 357.8L522.1 358.1L519.0 359.4M521.0 365.3L524.0 364.3L527.0 363.6L530.0 362.6L533.0 362.8L536.0 363.6L539.0 363.8L542.0 363.8L545.0 363.5L545.0 364.2L542.0 364.0L539.0 364.3L536.0 364.0L533.0 363.6L530.0 364.3L527.0 364.3L524.0 365.7L521.0 366.9M522.0 370.2L525.2 369.8L528.4 370.0L531.6 371.5L534.8 371.5L538.0 370.3L538.0 370.6L534.8 371.7L531.6 372.2L528.4 371.3L525.2 370.7L522.0 371.4M523.0 376.3L526.2 377.1L529.5 377.9L532.8 376.5L536.0 375.4L536.0 375.7L532.8 377.6L529.5 378.9L526.2 378.4L523.0 377.7M520.0 352.2L523.2 353.1L526.4 353.1L529.6 352.8L532.8 351.5L536.0 350.9L536.0 351.8L532.8 352.5L529.6 353.8L526.4 354.6L523.2 354.1L520.0 353.6M519.0 361.5L522.5 361.9L526.0 360.5L529.5 358.9L533.0 359.2L533.0 360.1L529.5 359.9L526.0 361.3L522.5 362.6L519.0 362.7M520.0 344.3L523.3 343.3L526.7 341.9L530.0 341.4L533.3 340.6L536.7 340.7L540.0 341.0L540.0 342.0L536.7 341.4L533.3 341.2L530.0 341.7L526.7 343.0L523.3 344.9L520.0 346.2M527.0 338.8L530.0 337.2L533.0 335.9L536.0 335.9L539.0 335.5L542.0 335.4L545.0 336.2L548.0 336.1L548.0 336.2L545.0 336.6L542.0 336.4L539.0 336.5L536.0 336.2L533.0 337.4L530.0 339.0L527.0 340.0M566.0 328.8L569.1 327.9L572.2 327.6L575.3 327.3L578.4 327.4L581.6 327.4L584.7 328.2L587.8 328.0L590.9 327.2L594.0 326.7L594.0 327.0L590.9 327.7L587.8 328.5L584.7 328.2L581.6 328.8L578.4 328.2L575.3 328.0L572.2 328.7L569.1 328.8L566.0 329.9M612.7 283.3L615.4 281.3L617.1 282.3L617.5 279.7L620.4 281.5L621.3 277.9L623.7 280.8L624.1 278.4L626.4 279.5L628.1 275.8L630.7 276.6L632.4 275.7L633.5 277.2L634.8 273.0L637.1 273.9L639.0 272.5L641.4 273.2L641.2 271.7L643.9 272.0L645.6 269.7L646.9 271.6L648.5 268.7L650.6 269.0L651.2 267.0L652.7 267.7L655.3 265.7L656.7 267.0M656.9 265.3L654.8 267.4L651.1 267.4L651.4 269.8L648.8 268.8L645.9 270.9L644.5 271.2L642.2 273.5L639.6 273.4L639.6 275.0L635.0 274.7L635.0 276.6L631.8 275.8L630.9 277.9L627.2 277.9L625.7 281.1L622.4 280.3L621.7 281.7L618.9 280.7L617.5 283.6L616.2 281.7L613.8 283.6L613.7 283.2M700.0 258.5L703.0 259.0L706.0 260.8L709.0 263.8L712.0 267.1L712.0 267.8L709.0 264.4L706.0 260.9L703.0 259.7L700.0 259.0M728.0 250.9L730.0 252.7L732.0 256.1L734.0 259.9L736.0 262.4L736.0 263.1L734.0 260.9L732.0 257.2L730.0 253.8L728.0 252.3M760.0 248.2L762.5 251.1L765.0 254.5L767.5 256.9L770.0 257.4L770.0 258.2L767.5 257.2L765.0 255.3L762.5 251.7L760.0 249.7M790.0 250.2L792.5 253.5L795.0 256.2L797.5 257.2L800.0 257.5L800.0 258.0L797.5 257.9L795.0 257.1L792.5 254.5L790.0 251.9"/>
<path stroke-width="1.5" d="M544.9 390.1L542.1 392.3L540.6 388.6L538.7 391.7L537.8 388.1L535.1 389.4L534.0 387.1L533.3 388.2L532.3 383.3L527.8 386.1L533.7 381.1L525.8 383.2L533.3 381.1L527.4 380.7L528.0 374.8L522.7 378.9L528.9 375.2L521.1 374.2L528.8 372.5L521.7 371.8L528.8 368.2L522.1 367.3L530.0 364.1L520.9 365.1L521.7 362.8L519.5 361.5L527.9 358.2L519.2 356.6L524.5 354.9L519.2 353.4L522.0 352.2L519.8 349.3L525.5 350.2L522.7 346.0L523.7 347.0L524.6 343.5L529.2 348.8L528.8 343.4L531.6 345.1L532.7 342.4L534.6 343.8L535.1 340.7L538.6 345.6L539.7 338.7L542.6 345.9L542.9 336.7L544.1 339.6L546.5 336.7L547.7 338.1L549.7 334.6L551.1 336.8L552.5 334.8L555.5 337.4L555.2 334.0L561.7 339.6L559.6 330.1L564.2 337.0L562.1 330.2L564.1 332.4L567.0 329.7L570.4 337.2L570.5 329.7L573.2 332.1L572.9 328.4L577.0 331.7L576.7 327.5L579.5 327.5L579.3 323.9L581.9 326.7L582.2 323.1L583.7 323.7L583.9 320.7L588.1 322.9L588.2 318.5L590.7 320.3L591.2 318.3L596.3 320.6L594.2 314.4L597.6 317.6L598.3 313.6L600.6 315.5L601.4 313.3L607.4 318.7L603.4 309.9L608.0 312.2L605.0 307.1L611.4 309.1L607.9 305.2L609.1 305.2L609.4 303.3L612.7 301.5L612.2 298.0L617.7 304.3L615.1 296.5L618.2 298.3L617.6 295.5L622.8 298.3L620.9 293.2L623.6 295.8L623.6 290.0L627.1 292.4L627.6 289.4L632.2 294.6L631.0 288.6L633.2 290.5L634.7 286.3L638.9 292.0L636.6 285.4L639.5 285.8L640.4 284.3L645.3 288.8L643.2 281.3L649.7 286.3L646.5 279.0L650.0 281.6L648.8 277.9L654.4 282.5L651.6 275.3L658.0 282.3L655.5 273.7L658.6 280.9L659.7 273.3L662.3 275.1L662.7 272.3L668.8 278.4L665.1 270.0L670.7 274.7L669.5 267.8L672.4 272.6L672.4 266.9L675.8 270.5L674.0 264.8L677.9 269.8L678.3 264.3L681.4 268.5L681.6 262.8L685.3 267.2L685.4 262.6L687.7 263.3L688.5 260.6L691.8 264.5L693.3 260.5L696.5 266.8L696.3 258.5L698.0 261.1L700.2 259.0L702.0 261.9L704.2 257.6L706.1 260.9L707.2 257.4L708.9 262.4L710.2 257.0L714.2 266.3L713.3 257.3L717.5 264.7L717.8 255.6L721.4 263.3L721.5 255.6L722.1 257.4L724.3 254.4L727.3 260.4L727.4 253.4L730.6 257.0L730.4 254.0L734.2 259.9L734.3 253.0L736.4 253.7L737.5 252.4L741.6 253.8L740.4 248.8L743.5 252.5L745.9 248.3L746.6 251.1L748.3 247.8L749.6 249.6L753.1 247.4L754.7 257.1L756.8 246.5L757.4 249.4L759.3 248.3L763.0 253.3L763.8 246.5L764.8 250.6L766.0 246.3L768.8 249.7L770.7 245.0L770.9 254.5L774.8 245.8L773.9 250.4L776.8 246.2L778.0 249.7L779.7 248.3L783.7 249.8L783.9 246.9L787.3 252.3L787.1 247.4L789.4 255.7L791.4 247.3L792.2 254.4L796.1 246.5L795.8 252.8L798.7 248.4L798.4 254.5L801.3 248.2L802.6 255.4L805.2 248.6L805.5 258.7L808.6 250.5L809.6 259.4L812.7 250.1L814.0 259.2L816.4 250.2L816.0 259.9L819.0 252.2L821.2 255.0L823.8 253.6L824.1 256.7L826.7 252.3L828.9 255.7L831.8 252.8L830.9 257.6L834.0 254.5M540.2 392.8L542.1 392.1L544.1 392.8L542.1 393.6L540.2 392.8M523.4 382.3L525.6 381.4L527.7 382.3L525.6 383.2L523.4 382.3M516.7 371.9L518.9 371.3L521.1 371.9L518.9 372.4L516.7 371.9M518.1 369.9L519.9 368.6L521.8 369.9L519.9 371.2L518.1 369.9M517.3 368.4L518.5 367.1L519.8 368.4L518.5 369.6L517.3 368.4M515.5 361.2L516.8 359.9L518.0 361.2L516.8 362.6L515.5 361.2M516.5 349.0L518.1 348.5L519.8 349.0L518.1 349.5L516.5 349.0M517.1 346.2L518.5 345.1L520.0 346.2L518.5 347.3L517.1 346.2M563.9 326.3L565.7 325.0L567.5 326.3L565.7 327.6L563.9 326.3M567.8 327.1L569.5 326.2L571.3 327.1L569.5 328.1L567.8 327.1M575.8 323.0L577.8 322.4L579.9 323.0L577.8 323.5L575.8 323.0M582.2 321.0L583.1 319.7L584.0 321.0L583.1 322.4L582.2 321.0M586.8 316.2L588.6 315.3L590.4 316.2L588.6 317.0L586.8 316.2M604.3 304.0L606.2 303.4L608.1 304.0L606.2 304.5L604.3 304.0M610.9 294.9L613.0 294.3L615.1 294.9L613.0 295.4L610.9 294.9M627.2 288.3L629.1 287.0L630.9 288.3L629.1 289.6L627.2 288.3M630.5 286.1L631.8 285.4L633.0 286.1L631.8 286.8L630.5 286.1M650.8 274.6L651.9 273.5L652.9 274.6L651.9 275.7L650.8 274.6M656.0 271.3L657.2 270.5L658.4 271.3L657.2 272.1L656.0 271.3M657.5 272.1L658.9 271.2L660.3 272.1L658.9 273.1L657.5 272.1M660.2 270.8L661.9 270.2L663.6 270.8L661.9 271.4L660.2 270.8M661.4 268.5L662.7 267.3L664.1 268.5L662.7 269.7L661.4 268.5M680.0 261.8L681.8 260.6L683.6 261.8L681.8 262.9L680.0 261.8M691.2 258.9L692.1 258.3L693.0 258.9L692.1 259.5L691.2 258.9M692.5 258.7L693.9 257.5L695.3 258.7L693.9 259.8L692.5 258.7M695.6 256.9L697.2 256.3L698.8 256.9L697.2 257.6L695.6 256.9M696.9 255.8L698.9 254.4L701.0 255.8L698.9 257.1L696.9 255.8M704.8 255.0L706.5 254.1L708.3 255.0L706.5 255.9L704.8 255.0M707.5 255.4L708.4 254.5L709.2 255.4L708.4 256.4L707.5 255.4M710.1 254.5L711.8 253.9L713.4 254.5L711.8 255.0L710.1 254.5M711.4 254.8L713.5 254.0L715.6 254.8L713.5 255.6L711.4 254.8M713.4 253.7L715.1 252.4L716.7 253.7L715.1 255.0L713.4 253.7M721.4 254.0L722.4 253.1L723.5 254.0L722.4 255.0L721.4 254.0M725.2 251.1L727.0 250.3L728.8 251.1L727.0 251.9L725.2 251.1M733.2 250.4L734.3 249.9L735.3 250.4L734.3 250.9L733.2 250.4M737.7 248.7L739.1 248.1L740.4 248.7L739.1 249.2L737.7 248.7M739.6 247.8L740.7 246.8L741.7 247.8L740.7 248.9L739.6 247.8M741.0 246.6L742.2 245.3L743.4 246.6L742.2 247.8L741.0 246.6M746.4 245.6L748.5 244.6L750.7 245.6L748.5 246.7L746.4 245.6M749.6 246.8L750.4 246.2L751.3 246.8L750.4 247.3L749.6 246.8M754.1 246.1L755.8 244.7L757.4 246.1L755.8 247.4L754.1 246.1M759.0 244.5L760.8 243.3L762.6 244.5L760.8 245.8L759.0 244.5M764.4 243.7L766.0 242.6L767.7 243.7L766.0 244.8L764.4 243.7M767.0 243.4L767.9 242.5L768.7 243.4L767.9 244.3L767.0 243.4M768.4 244.3L770.4 243.2L772.4 244.3L770.4 245.4L768.4 244.3M778.6 245.2L780.2 244.7L781.8 245.2L780.2 245.7L778.6 245.2M786.3 243.7L787.3 243.2L788.3 243.7L787.3 244.3L786.3 243.7M795.8 244.5L797.5 243.3L799.1 244.5L797.5 245.8L795.8 244.5M808.1 246.6L809.9 245.3L811.7 246.6L809.9 247.8L808.1 246.6M825.9 251.6L827.3 251.0L828.7 251.6L827.3 252.1L825.9 251.6"/>
</g>
<rect x="100.5" y="149.5" width="900" height="550" fill="none" stroke="#000" stroke-width="3"/>
<g stroke="#000" stroke-width="1">
<line x1="95.5" y1="699.5" x2="99" y2="699.5"/>
<line x1="95.5" y1="589.5" x2="99" y2="589.5"/>
<line x1="95.5" y1="479.5" x2="99" y2="479.5"/>
<line x1="95.5" y1="369.5" x2="99" y2="369.5"/>
<line x1="95.5" y1="259.5" x2="99" y2="259.5"/>
<line x1="95.5" y1="149.5" x2="99" y2="149.5"/>
<line x1="100.5" y1="701" x2="100.5" y2="704"/>
<line x1="220.5" y1="701" x2="220.5" y2="704"/>
<line x1="340.5" y1="701" x2="340.5" y2="704"/>
<line x1="460.5" y1="701" x2="460.5" y2="704"/>
<line x1="580.5" y1="701" x2="580.5" y2="704"/>
<line x1="700.5" y1="701" x2="700.5" y2="704"/>
<line x1="820.5" y1="701" x2="820.5" y2="704"/>
<line x1="940.5" y1="701" x2="940.5" y2="704"/>
</g>
<text class="ax" x="92" y="704.2" text-anchor="end">30N</text>
<text class="ax" x="92" y="594.2" text-anchor="end">40N</text>
<text class="ax" x="92" y="484.2" text-anchor="end">50N</text>
<text class="ax" x="92" y="374.2" text-anchor="end">60N</text>
<text class="ax" x="92" y="264.2" text-anchor="end">70N</text>
<text class="ax" x="92" y="154.2" text-anchor="end">80N</text>
<text class="ax" x="100.5" y="716.7" text-anchor="middle">30W</text>
<text class="ax" x="220.5" y="716.7" text-anchor="middle">20W</text>
<text class="ax" x="340.5" y="716.7" text-anchor="middle">10W</text>
<text class="ax" x="460.5" y="716.7" text-anchor="middle">0</text>
<text class="ax" x="580.5" y="716.7" text-anchor="middle">10E</text>
<text class="ax" x="700.5" y="716.7" text-anchor="middle">20E</text>
<text class="ax" x="820.5" y="716.7" text-anchor="middle">30E</text>
<text class="ax" x="940.5" y="716.7" text-anchor="middle">40E</text>
<g stroke="#000" stroke-width="1.6" stroke-linejoin="miter">
<polygon points="297,734 297,750 240,742" fill="#3c14a0"/>
<rect x="297" y="734" width="56" height="16" fill="#4b3cd2"/>
<rect x="353" y="734" width="56" height="16" fill="#1e64d2"/>
<rect x="409" y="734" width="56" height="16" fill="#3c8cf0"/>
<rect x="465" y="734" width="56" height="16" fill="#78b4f5"/>
<rect x="521" y="734" width="56" height="16" fill="#fff"/>
<rect x="577" y="734" width="56" height="16" fill="#ffa00f"/>
<rect x="633" y="734" width="56" height="16" fill="#ff3c00"/>
<rect x="689" y="734" width="56" height="16" fill="#b40000"/>
<rect x="745" y="734" width="56" height="16" fill="#c8a096"/>
<polygon points="801,734 801,750 860,742" fill="#7d5046"/>
</g>
<text class="ax" x="297" y="763.5" text-anchor="middle">−4</text>
<text class="ax" x="353" y="763.5" text-anchor="middle">−3</text>
<text class="ax" x="409" y="763.5" text-anchor="middle">−2</text>
<text class="ax" x="465" y="763.5" text-anchor="middle">−1</text>
<text class="ax" x="521" y="763.5" text-anchor="middle">−0.5</text>
<text class="ax" x="577" y="763.5" text-anchor="middle">0.5</text>
<text class="ax" x="633" y="763.5" text-anchor="middle">1</text>
<text class="ax" x="689" y="763.5" text-anchor="middle">2</text>
<text class="ax" x="745" y="763.5" text-anchor="middle">3</text>
<text class="ax" x="801" y="763.5" text-anchor="middle">4</text>
<text id="t_title" y="109.5" font-size="20.4" font-weight="normal" fill="#b81616" stroke="#b81616" stroke-width="0.45"><tspan x="353.8" textLength="64.6" lengthAdjust="spacing">CFSv2</tspan> <tspan x="433.2" textLength="83.2" lengthAdjust="spacing">monthly</tspan> <tspan x="530.8" textLength="45.0" lengthAdjust="spacing">T2m</tspan> <tspan x="590.8" textLength="107.4" lengthAdjust="spacing">anomalies</tspan> <tspan x="714.3" textLength="30.9" lengthAdjust="spacing">(K)</tspan></text>
<text id="t_feb" y="144.2" font-size="16.9" font-weight="normal" fill="#2a3cc8" stroke="#2a3cc8" stroke-width="0.5"><tspan x="99.7" textLength="31.0" lengthAdjust="spacing">Feb</tspan> <tspan x="144.4" textLength="46.2" lengthAdjust="spacing">2018</tspan></text>
<text id="t_nws" y="121.6" font-size="20.5" font-weight="normal" fill="#000" stroke="#000" stroke-width="0.35"><tspan x="847.0" textLength="152.8" lengthAdjust="spacing">NWS/NCEP/CPC</tspan></text>
<text id="t_init" y="145.4" font-size="14.6" font-weight="normal" fill="#2a2a2a" stroke="#2a2a2a" stroke-width="0"><tspan x="679.8" textLength="40.2" lengthAdjust="spacing">Initial</tspan> <tspan x="729.8" textLength="82.9" lengthAdjust="spacing">conditions:</tspan> <tspan x="823.4" textLength="175.2" lengthAdjust="spacing">24Jan2018−2Feb2018</tspan></text>
<g id="logo">
<path d="M895.5 66 C900 75 908 83 917 87.6 C920 89.6 924 89.8 928 88 C940 83 950 75 954.6 65.5 A30.6 29.7 0 1 1 895.5 66 Z" fill="#1ee6e6"/>
<path d="M899.6 57.6 A30.6 29.7 0 0 1 950.4 57.6 L943.5 62.5 Q939.5 68.5 937.7 72.6 L926.4 80.4 L916 74.5 Z" fill="#0f28c8"/>
<path d="M917.5 86.2 C921 86.6 925 85.6 929 83.4 C927 86.6 923 88.4 918 88.2 Z" fill="#fff"/>
<text x="912.3" y="64.6" font-size="9.6" font-weight="bold" fill="#fff" textLength="25.4" lengthAdjust="spacingAndGlyphs">NOAA</text>
</g>
</svg></body></html>
